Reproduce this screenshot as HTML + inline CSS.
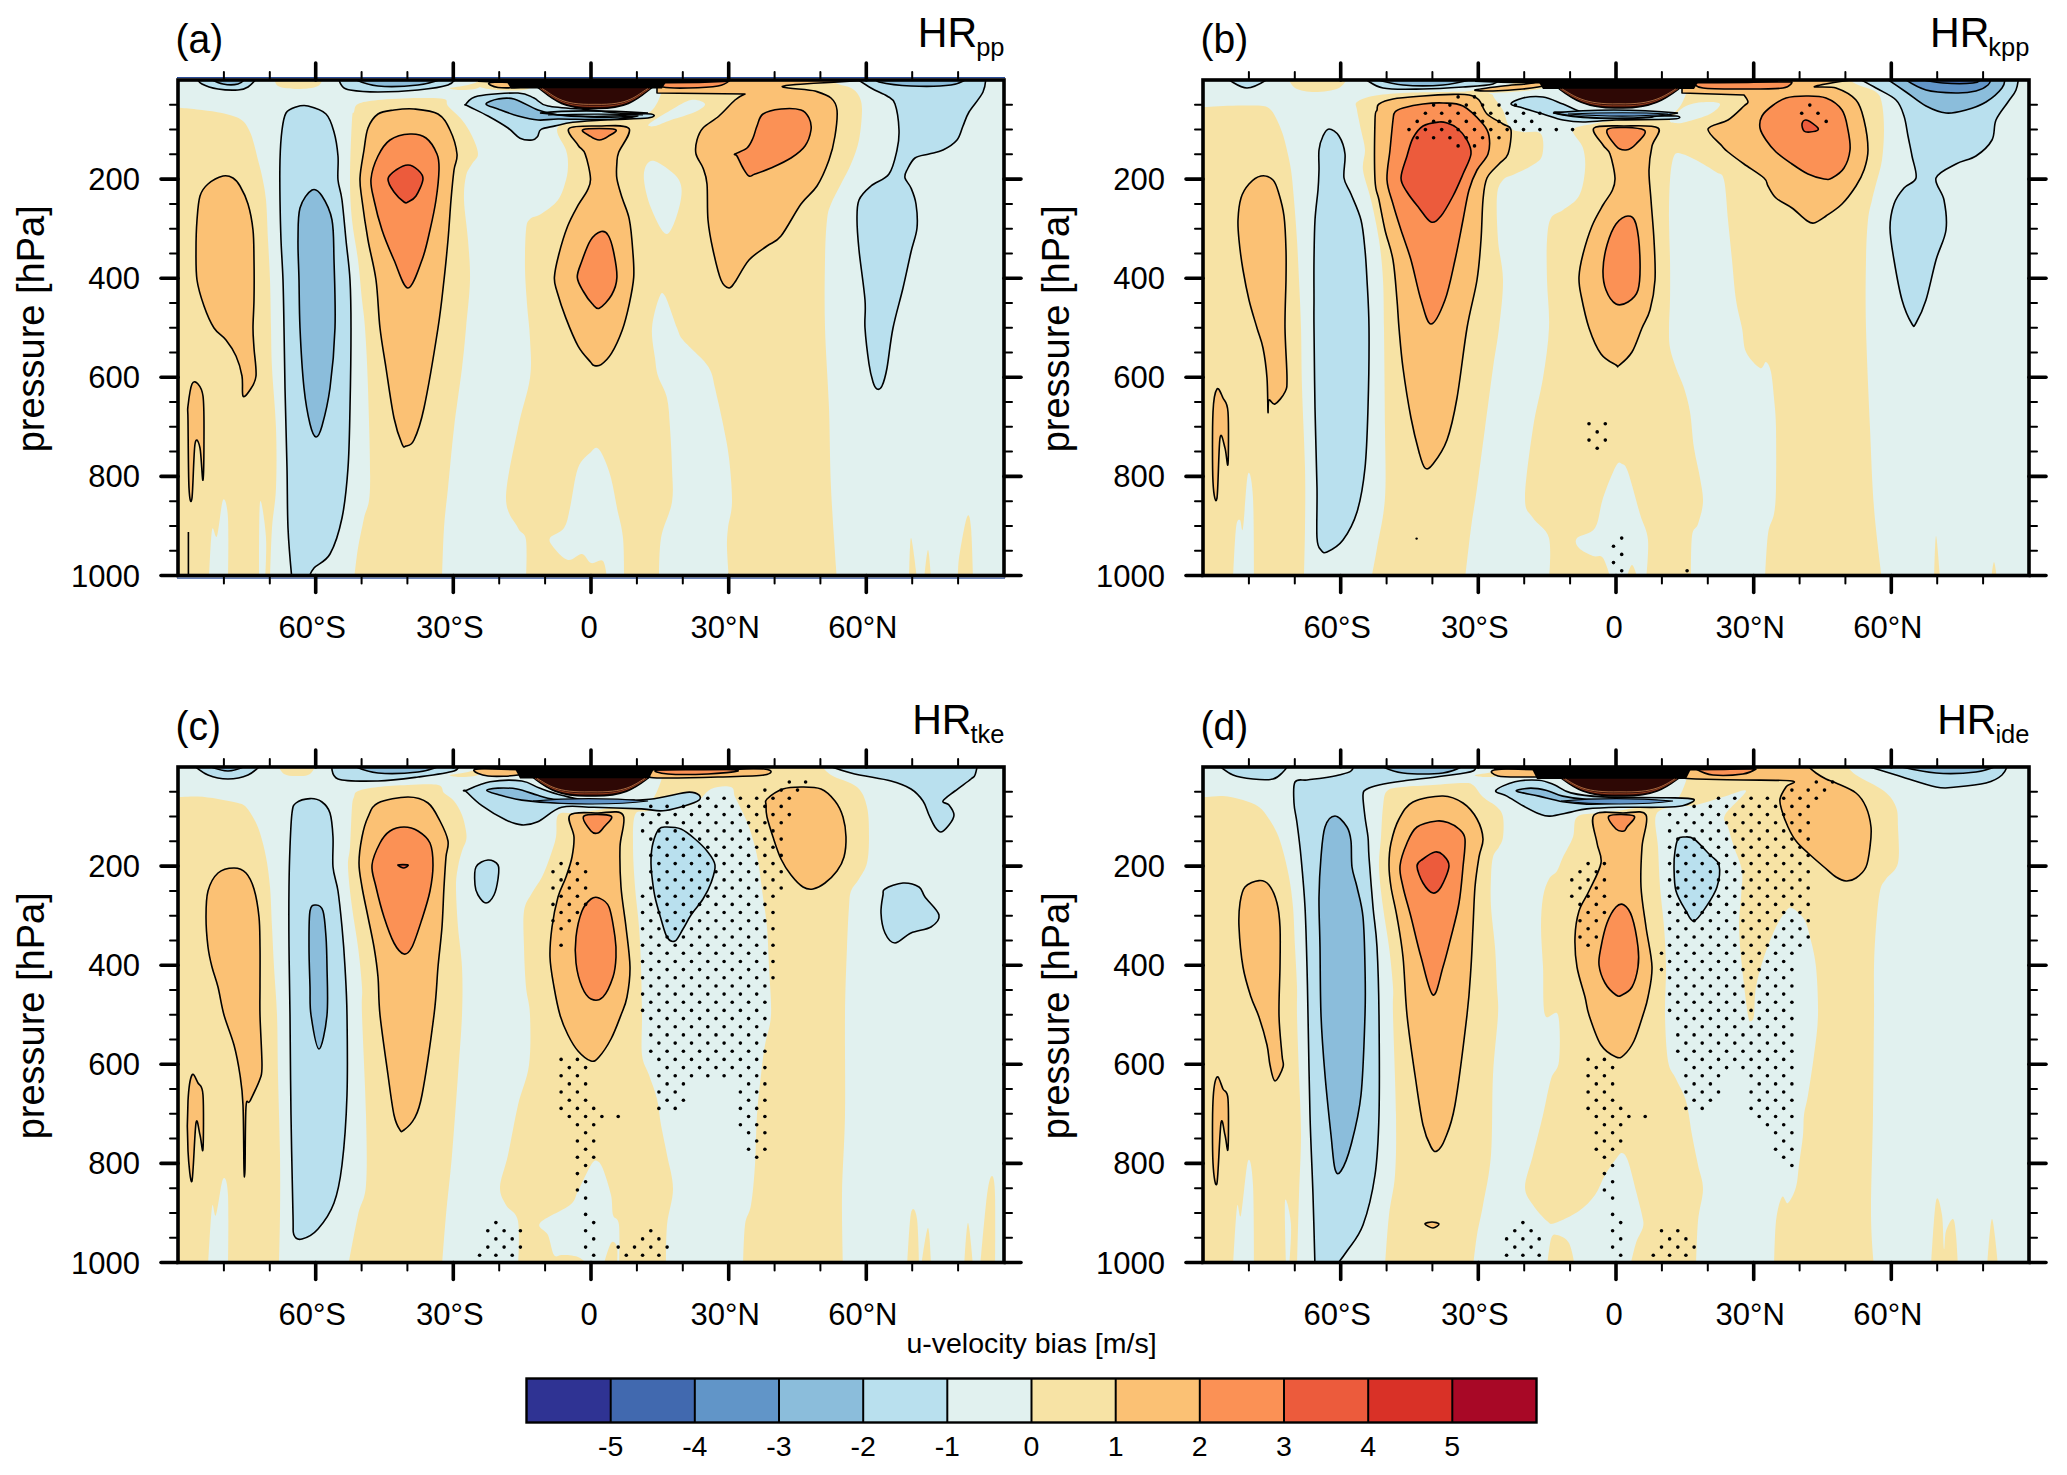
<!DOCTYPE html><html><head><meta charset="utf-8"><style>html,body{margin:0;padding:0;background:#fff;}svg{display:block;}</style></head><body>
<svg width="2067" height="1475" viewBox="0 0 2067 1475">
<rect width="2067" height="1475" fill="#fff"/>
<g transform="translate(178,80)">
<clipPath id="clipa"><rect x="0" y="0" width="826" height="495.5"/></clipPath>
<g clip-path="url(#clipa)">
<rect x="0" y="0" width="826" height="495.5" fill="#e1f1ef"/>
<path d="M-5,28C-5,28 -0.8,27.7 4,28C8.8,28.3 17.3,29.2 24,30C30.7,30.8 38.3,31.8 44,33C49.7,34.2 54.3,35.5 58,37C61.7,38.5 63.7,39.5 66,42C68.3,44.5 70.3,48.3 72,52C73.7,55.7 74.7,59.3 76,64C77.3,68.7 78.7,74.7 80,80C81.3,85.3 82.7,89.3 84,96C85.3,102.7 87,109.3 88,120C89,130.7 89.3,146.7 90,160C90.7,173.3 91.5,185.3 92,200C92.5,214.7 92.7,233.3 93,248C93.3,262.7 93.2,271.3 94,288C94.8,304.7 97.3,328 98,348C98.7,368 98.7,391.3 98,408C97.3,424.7 95,432.7 94,448C93,463.3 92,500 92,500C92,500 -5,500 -5,500C-5,500 -5,28 -5,28Z" fill="#f7e3a5"/>
<path d="M180,24C176,26 177,29.3 176,32C175,34.7 174.7,28.7 174,40C173.3,51.3 172,83.3 172,100C172,116.7 172.7,126.7 174,140C175.3,153.3 178.3,166.7 180,180C181.7,193.3 182.8,208.7 184,220C185.2,231.3 186,233.3 187,248C188,262.7 189.2,281.3 190,308C190.8,334.7 192.7,386.3 192,408C191.3,429.7 188,428 186,438C184,448 181.7,457.7 180,468C178.3,478.3 176,500 176,500C176,500 264,500 264,500C264,500 265,463.3 266,448C267,432.7 268.3,424.7 270,408C271.7,391.3 273.7,368 276,348C278.3,328 282,304.7 284,288C286,271.3 286.7,262.7 288,248C289.3,233.3 291.7,214.7 292,200C292.3,185.3 291,173.3 290,160C289,146.7 286.3,130.7 286,120C285.7,109.3 286.7,102 288,96C289.3,90 292,87.7 294,84C296,80.3 300,78.7 300,74C300,69.3 296.7,61.7 294,56C291.3,50.3 288,45 284,40C280,35 273,29.5 270,26C267,22.5 271,20.3 266,19C261,17.7 251,17.8 240,18C229,18.2 210,19 200,20C190,21 184,22 180,24Z" fill="#f7e3a5"/>
<path d="M380,47C375.8,52.7 386.3,63.8 388,70C389.7,76.2 390,79 390,84C390,89 389.7,94 388,100C386.3,106 384.2,114.3 380,120C375.8,125.7 367.7,130.8 363,134C358.3,137.2 354.5,136.3 352,139C349.5,141.7 348.8,141.7 348,150C347.2,158.3 346.8,176.7 347,189C347.2,201.3 348.2,212.3 349,224C349.8,235.7 351.5,246.7 352,259C352.5,271.3 354,283.2 352,298C350,312.8 344,328 340,348C336,368 328,401.3 328,418C328,434.7 336.7,441 340,448C343.3,455 346.7,451.3 348,460C349.3,468.7 348,500 348,500C348,500 659,500 659,500C659,500 654.3,436.7 653,408C651.7,379.3 652,354.7 651,328C650,301.3 647.7,272.7 647,248C646.3,223.3 646.7,198 647,180C647.3,162 648,149.3 649,140C650,130.7 650.7,130 653,124C655.3,118 659.7,110.7 663,104C666.3,97.3 670,91.3 673,84C676,76.7 679.2,69 681,60C682.8,51 684,37.3 684,30C684,22.7 682.8,19.7 681,16C679.2,12.3 676.5,10 673,8C669.5,6 665.5,6.2 660,4C654.5,1.8 640,-5 640,-5C640,-5 485,-5 485,-5C485,-5 485.5,7.7 483,14C480.5,20.3 477.2,29.7 470,33C462.8,36.3 449.5,33.5 440,34C430.5,34.5 423,33.8 413,36C403,38.2 384.2,41.3 380,47Z" fill="#f7e3a5"/>
<path d="M96,-5C96,-5 146,-5 146,-5C146,-5 144.3,3.7 140,6C135.7,8.3 126.7,9 120,9C113.3,9 104,8.3 100,6C96,3.7 96,-5 96,-5Z" fill="#f7e3a5"/>
<path d="M272,8C273.7,7.2 283.3,6.7 290,5C296.7,3.3 312,-2 312,-2C312,-2 305.3,6 300,8C294.7,10 284.7,10 280,10C275.3,10 270.3,8.8 272,8Z" fill="#f7e3a5"/>
<path d="M731,500C731,500 731.7,458 733,458C734.3,458 739,500 739,500C739,500 731,500 731,500Z" fill="#f7e3a5"/>
<path d="M746,500C746,500 748.8,470 750,470C751.2,470 753,500 753,500C753,500 746,500 746,500Z" fill="#f7e3a5"/>
<path d="M780,500C780,500 779.5,488.5 781,478C782.5,467.5 787,442 789,437C791,432 792,437.5 793,448C794,458.5 795,500 795,500C795,500 780,500 780,500Z" fill="#f7e3a5"/>
<path d="M471,44C473.7,41.3 486,34 493,30C500,26 507.3,21 513,20C518.7,19 526.3,22 527,24C527.7,26 522.7,29.3 517,32C511.3,34.7 499.7,37.7 493,40C486.3,42.3 480.7,45.3 477,46C473.3,46.7 468.3,46.7 471,44Z" fill="#e1f1ef"/>
<path d="M469,84C471.2,81 473.7,79.3 479,82C484.3,84.7 497.2,93 501,100C504.8,107 504,115 502,124C500,133 493.8,153.3 489,154C484.2,154.7 476.8,137 473,128C469.2,119 466.7,107.3 466,100C465.3,92.7 466.8,87 469,84Z" fill="#e1f1ef"/>
<path d="M481,218C483.2,212.7 484,211 487,216C490,221 496,240.7 499,248C502,255.3 500.7,254.7 505,260C509.3,265.3 520.3,274.7 525,280C529.7,285.3 531,287.3 533,292C535,296.7 535,299.3 537,308C539,316.7 542.7,332.3 545,344C547.3,355.7 549.5,365 551,378C552.5,391 554.2,410.3 554,422C553.8,433.7 550.8,440.3 550,448C549.2,455.7 548.8,459.3 549,468C549.2,476.7 551,500 551,500C551,500 481,500 481,500C481,500 480.8,471 483,458C485.2,445 492.2,433.7 494,422C495.8,410.3 494.3,400.3 494,388C493.7,375.7 492.8,359.7 492,348C491.2,336.3 491,326.7 489,318C487,309.3 482,302.7 480,296C478,289.3 478,286 477,278C476,270 473.3,258 474,248C474.7,238 478.8,223.3 481,218Z" fill="#e1f1ef"/>
<path d="M413,372C416.2,368.7 417,367.3 419,368C421,368.7 422.7,371 425,376C427.3,381 430.7,389.3 433,398C435.3,406.7 437,418 439,428C441,438 443.8,446 445,458C446.2,470 446,500 446,500C446,500 429,500 429,500C429,500 427.7,483.8 425,481C422.3,478.2 416.5,484.2 413,483C409.5,481.8 407.8,474.5 404,474C400.2,473.5 394.7,481 390,480C385.3,479 379,471.7 376,468C373,464.3 370.3,461.3 372,458C373.7,454.7 382.7,453 386,448C389.3,443 389.7,438 392,428C394.3,418 396.5,397.3 400,388C403.5,378.7 409.8,375.3 413,372Z" fill="#e1f1ef"/>
<path d="M31,500C31,500 32.7,457.3 34,450C35.3,442.7 37.2,461 39,456C40.8,451 43.2,423 45,420C46.8,417 49.2,424.7 50,438C50.8,451.3 50,500 50,500C50,500 31,500 31,500Z" fill="#e1f1ef"/>
<path d="M81,500C81,500 80.8,429 82,422C83.2,415 87.2,445 88,458C88.8,471 87,500 87,500C87,500 81,500 81,500Z" fill="#e1f1ef"/>
<path d="M45,96C49.2,95 52.2,96.3 55,98C57.8,99.7 59.5,101.7 62,106C64.5,110.3 67.8,116.7 70,124C72.2,131.3 74,140.7 75,150C76,159.3 75.8,168.3 76,180C76.2,191.7 76.2,208.7 76,220C75.8,231.3 75,240 75,248C75,256 75.5,260 76,268C76.5,276 78.7,289 78,296C77.3,303 74.2,306.7 72,310C69.8,313.3 66.3,318.3 65,316C63.7,313.7 65.2,302.7 64,296C62.8,289.3 60.7,282 58,276C55.3,270 51.7,264.7 48,260C44.3,255.3 39.7,253.7 36,248C32.3,242.3 28.8,234 26,226C23.2,218 20.3,209.3 19,200C17.7,190.7 18,180 18,170C18,160 18.3,149 19,140C19.7,131 20.2,122 22,116C23.8,110 26.2,107.3 30,104C33.8,100.7 40.8,97 45,96Z" fill="#fbc174" stroke="#000" stroke-width="1.6" stroke-linejoin="round"/>
<path d="M10,326C10.7,320 12.3,307.7 14,304C15.7,300.3 18.2,302 20,304C21.8,306 24,308.7 25,316C26,323.3 26,334 26,348C26,362 25.7,396.7 25,400C24.3,403.3 23.3,374 22,368C20.7,362 18.3,355.7 17,364C15.7,372.3 15,410.7 14,418C13,425.3 11.7,421 11,408C10.3,395 10.2,353.7 10,340C9.8,326.3 9.3,332 10,326Z" fill="#fbc174" stroke="#000" stroke-width="1.6" stroke-linejoin="round"/>
<path d="M236,29C243.3,29.7 254,30.5 260,34C266,37.5 268.8,43.3 272,50C275.2,56.7 278.3,67.3 279,74C279.7,80.7 277,82.3 276,90C275,97.7 274,108.3 273,120C272,131.7 271.2,146.7 270,160C268.8,173.3 267.7,185.3 266,200C264.3,214.7 263.3,226.7 260,248C256.7,269.3 250,309.3 246,328C242,346.7 239,353.7 236,360C233,366.3 230,365.3 228,366C226,366.7 226,368.7 224,364C222,359.3 218.7,350.7 216,338C213.3,325.3 210.3,303 208,288C205.7,273 203.7,262.7 202,248C200.3,233.3 200,214.7 198,200C196,185.3 192.3,173.3 190,160C187.7,146.7 185.3,130.3 184,120C182.7,109.7 181.7,106.3 182,98C182.3,89.7 184.7,78.3 186,70C187.3,61.7 187.7,54 190,48C192.3,42 195.7,37 200,34C204.3,31 210,30.8 216,30C222,29.2 228.7,28.3 236,29Z" fill="#fbc174" stroke="#000" stroke-width="1.6" stroke-linejoin="round"/>
<path d="M391,48.5C394.5,45.3 411,46 421,46C431,46 447.7,44.1 451,48.5C454.3,52.9 442.7,66.6 440.7,72.3C438.7,78 439.2,78.5 438.9,82.9C438.6,87.3 438,92.8 438.9,98.7C439.8,104.6 442.1,111.3 444.2,118.1C446.3,124.9 449.5,130.5 451.3,139.3C453.1,148.1 454.1,161.3 454.8,171C455.5,180.7 456.3,188.6 455.7,197.4C455.1,206.2 453.2,215 451.3,223.8C449.4,232.6 447.1,242.1 444.2,250.3C441.2,258.5 437.1,267.5 433.6,273.2C430.1,278.9 426,282.6 423.1,284.6C420.2,286.7 417.8,285.9 416,285.5C414.2,285.1 415.1,285.2 412.5,282C409.9,278.8 404.2,273.5 400.1,266.1C396,258.8 391.3,247 387.8,237.9C384.3,228.8 380.9,218.2 379,211.5C377.1,204.8 376.1,203.6 376.4,197.4C376.7,191.2 378.6,183 380.8,174.5C383,166 386.4,154.5 389.6,146.3C392.8,138.1 396.9,131.1 400.1,125.2C403.3,119.3 406.9,115.5 409,111.1C411.1,106.7 412.8,104.9 412.5,98.7C412.2,92.5 409.3,79.7 407.2,74.1C405.1,68.5 402.8,69.5 400.1,65.2C397.4,60.9 387.5,51.7 391,48.5Z" fill="#fbc174" stroke="#000" stroke-width="1.6" stroke-linejoin="round"/>
<path d="M479,-5C479,-5 800,-5 800,-5C800,-5 640.2,2.3 613,5C585.8,7.7 630.3,8.8 637,11C643.7,13.2 649.3,14.8 653,18C656.7,21.2 658.3,23.7 659,30C659.7,36.3 658.3,47.7 657,56C655.7,64.3 654,71.7 651,80C648,88.3 643.7,98.7 639,106C634.3,113.3 629,115.7 623,124C617,132.3 608.7,149 603,156C597.3,163 594.3,162 589,166C583.7,170 576.3,174 571,180C565.7,186 560.3,197.3 557,202C553.7,206.7 553.3,208.3 551,208C548.7,207.7 545.7,206.3 543,200C540.3,193.7 537.2,180 535,170C532.8,160 531,151 530,140C529,129 529.8,112.7 529,104C528.2,95.3 526.8,93 525,88C523.2,83 519,78.7 518,74C517,69.3 517.8,64.3 519,60C520.2,55.7 521.3,52 525,48C528.7,44 535.7,40.7 541,36C546.3,31.3 552.7,23.7 557,20C561.3,16.3 567,14 567,14C567,14 479,13 479,13C479,13 479,-5 479,-5Z" fill="#fbc174" stroke="#000" stroke-width="1.6" stroke-linejoin="round"/>
<path d="M232,54C238,53.7 243.5,54.7 248,58C252.5,61.3 256.8,68.7 259,74C261.2,79.3 261.2,82.3 261,90C260.8,97.7 259.5,110 258,120C256.5,130 254.3,140 252,150C249.7,160 247.7,170.3 244,180C240.3,189.7 234.7,208 230,208C225.3,208 220.3,189.7 216,180C211.7,170.3 207.3,160 204,150C200.7,140 197.8,128.5 196,120C194.2,111.5 192.3,106.3 193,99C193.7,91.7 196.8,82.5 200,76C203.2,69.5 206.7,63.7 212,60C217.3,56.3 226,54.3 232,54Z" fill="#fb9155" stroke="#000" stroke-width="1.6" stroke-linejoin="round"/>
<path d="M405.4,49.4C409.5,48.2 433.1,48.2 437.2,49.4C441.3,50.6 432.8,54.6 430.1,56.4C427.5,58.2 424.2,60 421.3,60C418.4,60 415.1,58.2 412.5,56.4C409.9,54.6 401.3,50.6 405.4,49.4Z" fill="#fb9155" stroke="#000" stroke-width="1.6" stroke-linejoin="round"/>
<path d="M423.1,151.6C426,150.7 428.1,151.9 430.1,155.1C432.2,158.3 433.9,163.9 435.4,171C436.9,178.1 439.2,190.1 438.9,197.4C438.6,204.7 436.5,209.9 433.6,215C430.7,220.1 424.5,226.7 421.3,228.2C418.1,229.7 416.9,226.6 414.2,223.8C411.5,221 407.9,215.9 405.4,211.5C402.9,207.1 399.6,202.4 399.3,197.4C399,192.4 401.5,187.7 403.7,181.5C405.9,175.3 409.3,165.4 412.5,160.4C415.7,155.4 420.2,152.5 423.1,151.6Z" fill="#fb9155" stroke="#000" stroke-width="1.6" stroke-linejoin="round"/>
<path d="M585,34C589,31.2 596.7,29.7 603,29C609.3,28.3 618.3,28.5 623,30C627.7,31.5 629.3,34.7 631,38C632.7,41.3 633.7,45.3 633,50C632.3,54.7 630.3,61.3 627,66C623.7,70.7 618.7,74.3 613,78C607.3,81.7 599,85.3 593,88C587,90.7 580.7,92.7 577,94C573.3,95.3 573,97 571,96C569,95 567,91.3 565,88C563,84.7 560.3,78.3 559,76C557.7,73.7 555.3,75.3 557,74C558.7,72.7 566,70.7 569,68C572,65.3 573.3,61.7 575,58C576.7,54.3 577.3,50 579,46C580.7,42 581,36.8 585,34Z" fill="#fb9155" stroke="#000" stroke-width="1.6" stroke-linejoin="round"/>
<path d="M479,1C479,1 551,1 551,1C551,1 546.8,4.8 540,6C533.2,7.2 519.2,7.8 510,8C500.8,8.2 490.2,8.2 485,7C479.8,5.8 479,1 479,1Z" fill="#fb9155" stroke="#000" stroke-width="1.6" stroke-linejoin="round"/>
<path d="M300,-3C300,-3 360,-3 360,-3C360,-3 356.7,6.8 350,9C343.3,11.2 328.3,10.5 320,10C311.7,9.5 303.3,8.2 300,6C296.7,3.8 300,-3 300,-3Z" fill="#f7e3a5"/>
<path d="M311,3C312.7,2.1 323.2,2 330,2C336.8,2 349.5,2.2 352,3C354.5,3.8 350.3,6.2 345,7C339.7,7.8 325.7,8.2 320,7.5C314.3,6.8 309.3,3.9 311,3Z" fill="#fbc174" stroke="#000" stroke-width="1.6" stroke-linejoin="round"/>
<path d="M230,85C233.7,85 237.5,87.7 240,90C242.5,92.3 245.3,94.7 245,99C244.7,103.3 240.5,112.2 238,116C235.5,119.8 232,121 230,122C228,123 228.3,123.7 226,122C223.7,120.3 218.7,115.8 216,112C213.3,108.2 209.7,102.7 210,99C210.3,95.3 214.7,92.3 218,90C221.3,87.7 226.3,85 230,85Z" fill="#ec5b3c" stroke="#000" stroke-width="1.6" stroke-linejoin="round"/>
<path d="M130,26C135,27.2 143.7,29.7 148,34C152.3,38.3 154,45 156,52C158,59 159.3,68 160,76C160.7,84 159.3,92.7 160,100C160.7,107.3 162.7,110 164,120C165.3,130 166.7,146.7 168,160C169.3,173.3 171.2,185.3 172,200C172.8,214.7 173,226.7 173,248C173,269.3 172.5,304.7 172,328C171.5,351.3 171.3,369.7 170,388C168.7,406.3 167,423.7 164,438C161,452.3 156.7,465.7 152,474C147.3,482.3 139.7,483.7 136,488C132.3,492.3 130,500 130,500C130,500 114,500 114,500C114,500 110.8,466.7 110,448C109.2,429.3 109.5,411.3 109,388C108.5,364.7 107.5,331.3 107,308C106.5,284.7 106.3,266 106,248C105.7,230 105.5,214.7 105,200C104.5,185.3 103.5,173.3 103,160C102.5,146.7 102.2,133.3 102,120C101.8,106.7 101.7,91.7 102,80C102.3,68.3 103,57.8 104,50C105,42.2 105.7,36.8 108,33C110.3,29.2 114.3,28.2 118,27C121.7,25.8 125,24.8 130,26Z" fill="#b9e0ee" stroke="#000" stroke-width="1.6" stroke-linejoin="round"/>
<path d="M134,110C137.7,108 140.7,111 144,116C147.3,121 152,129.3 154,140C156,150.7 155.5,162 156,180C156.5,198 157.7,226.7 157,248C156.3,269.3 154.2,291.7 152,308C149.8,324.3 146.3,337.8 144,346C141.7,354.2 140,357.3 138,357C136,356.7 134,352.2 132,344C130,335.8 127.7,324 126,308C124.3,292 122.8,266 122,248C121.2,230 121.3,214.7 121,200C120.7,185.3 119.8,172 120,160C120.2,148 119.7,136.3 122,128C124.3,119.7 130.3,112 134,110Z" fill="#8bbddb" stroke="#000" stroke-width="1.6" stroke-linejoin="round"/>
<path d="M673,-5C673,-5 687,4.5 693,8C699,11.5 705,13.3 709,16C713,18.7 715,18.3 717,24C719,29.7 720.7,42.3 721,50C721.3,57.7 720.7,62.7 719,70C717.3,77.3 715.3,88 711,94C706.7,100 698,101.7 693,106C688,110.3 683.3,114.3 681,120C678.7,125.7 679,131.7 679,140C679,148.3 679.7,156.7 681,170C682.3,183.3 686,207 687,220C688,233 686.3,237.3 687,248C687.7,258.7 689.7,275 691,284C692.3,293 693.7,297.8 695,302C696.3,306.2 697.5,308.3 699,309C700.5,309.7 702.3,309.5 704,306C705.7,302.5 707.2,297.7 709,288C710.8,278.3 712.3,261.3 715,248C717.7,234.7 722,220.7 725,208C728,195.3 730.7,182 733,172C735.3,162 738.2,156 739,148C739.8,140 739,130.7 738,124C737,117.3 734.8,112.3 733,108C731.2,103.7 727.7,101 727,98C726.3,95 727.3,93.3 729,90C730.7,86.7 733.3,80.7 737,78C740.7,75.3 746.3,75.3 751,74C755.7,72.7 760.3,72.3 765,70C769.7,67.7 775.7,64 779,60C782.3,56 783,50.7 785,46C787,41.3 787.7,37.7 791,32C794.3,26.3 802.2,18.2 805,12C807.8,5.8 808,-5 808,-5C808,-5 673,-5 673,-5Z" fill="#b9e0ee" stroke="#000" stroke-width="1.6" stroke-linejoin="round"/>
<path d="M701,2C706.5,3.3 721,5.5 733,6C745,6.5 763.5,6.3 773,5C782.5,3.7 790,-2 790,-2C790,-2 700,-2 700,-2C700,-2 695.5,0.7 701,2Z" fill="#8bbddb" stroke="#000" stroke-width="1.6" stroke-linejoin="round"/>
<path d="M18,-3C18,-3 20.3,2 24,4C27.7,6 34,8 40,9C46,10 55,10.3 60,10C65,9.7 66.7,9.2 70,7C73.3,4.8 80,-3 80,-3C80,-3 18,-3 18,-3Z" fill="#b9e0ee" stroke="#000" stroke-width="1.6" stroke-linejoin="round"/>
<path d="M30,-2C30,-2 40,3 45,4C50,5 56.2,5 60,4C63.8,3 68,-2 68,-2C68,-2 30,-2 30,-2Z" fill="#8bbddb" stroke="#000" stroke-width="1.6" stroke-linejoin="round"/>
<path d="M160,-3C160,-3 162,3.8 164,6C166,8.2 166,9 172,10C178,11 188.7,12 200,12C211.3,12 228.3,11.2 240,10C251.7,8.8 263.7,7.2 270,5C276.3,2.8 278,-3 278,-3C278,-3 160,-3 160,-3Z" fill="#b9e0ee" stroke="#000" stroke-width="1.6" stroke-linejoin="round"/>
<path d="M176,-1C176,-1 189.3,5 200,6C210.7,7 229.3,6.2 240,5C250.7,3.8 264,-1 264,-1C264,-1 176,-1 176,-1Z" fill="#8bbddb" stroke="#000" stroke-width="1.6" stroke-linejoin="round"/>
<path d="M288,24C289.7,22.3 291.3,17.8 300,16C308.7,14.2 330.7,12.7 340,13C349.3,13.3 351,15.8 356,18C361,20.2 360.5,24 370,26C379.5,28 401.3,28.8 413,30C424.7,31.2 430,32.3 440,33C450,33.7 468,33.2 473,34C478,34.8 477.2,37 470,38C462.8,39 442.5,39 430,39.7C417.5,40.4 403.7,41.3 394.9,42.3C386.1,43.3 382.5,44.7 377.2,45.9C371.9,47.1 366,47.6 363.1,49.4C360.2,51.1 361.1,54.6 359.6,56.4C358.1,58.2 357.2,59.7 354.3,60C351.4,60.3 346.1,60.2 342,58.2C337.9,56.2 335.3,51.7 330,48C324.7,44.3 316.7,39.7 310,36C303.3,32.3 293.7,28 290,26C286.3,24 286.3,25.7 288,24Z" fill="#b9e0ee" stroke="#000" stroke-width="1.6" stroke-linejoin="round"/>
<path d="M308,24C308,22.3 315.3,19.8 320,19C324.7,18.2 329.3,17.2 336,19C342.7,20.8 352.7,27.3 360,30C367.3,32.7 371.2,33.8 380,35C388.8,36.2 403,36.7 413,37C423,37.3 432.2,37.2 440,37C447.8,36.8 460,35.7 460,36C460,36.3 447.8,38.4 440,39C432.2,39.6 423,39.5 413,39.5C403,39.5 388.8,38.9 380,39C371.2,39.1 366.7,40.5 360,40C353.3,39.5 346.7,37.8 340,36C333.3,34.2 325.3,31 320,29C314.7,27 308,25.7 308,24Z" fill="#8bbddb" stroke="#000" stroke-width="1.6" stroke-linejoin="round"/><path d="M300.0,-4 L551.0,-4 L551.0,2 C531.0,3 511.0,3.5 491.0,3.5 L360.0,3.5 C340.0,3.5 320.0,3 300.0,2Z" fill="#000"/>
<path d="M325.0,-4 L492.0,-4 L484.0,8.6 L333.0,8.6 Z" fill="#000"/>
<path d="M360.0,7.6 C372.0,16.6 382.0,29.5 417.0,28.5 C452.0,29.5 462.0,16.6 474.0,7.6 Z" fill="#2e0805" stroke="#000" stroke-width="1.4"/>
<path d="M362.2,8.6 C374.2,15.6 382.0,27.3 417.0,26.3 C452.0,27.3 459.8,15.6 471.8,8.6" fill="none" stroke="#d06030" stroke-width="0.8" opacity="0.8"/>
<path d="M364.2,8.6 C376.2,15.6 382.0,25.3 417.0,24.3 C452.0,25.3 457.8,15.6 469.8,8.6" fill="none" stroke="#f0a060" stroke-width="0.8" opacity="0.8"/>
<path d="M362,33 C390,30 420,30 470,33 C440,37 400,38 362,33Z" fill="none" stroke="#000" stroke-width="1.6"/>
<path d="M370,35 C400,34 440,34 465,35" fill="none" stroke="#000" stroke-width="1.2"/><line x1="10.4" y1="452" x2="10.4" y2="500" stroke="#000" stroke-width="1.6"/>
</g>
<rect x="-1" y="-3.0" width="828" height="1.2" fill="#2a4d9a"/><rect x="-1" y="497.5" width="828" height="1.2" fill="#2a4d9a"/>
<rect x="0" y="0" width="826" height="495.5" fill="none" stroke="#000" stroke-width="3.6"/>
<g stroke="#000" stroke-linecap="round"><line x1="45.9" y1="0" x2="45.9" y2="-8" stroke-width="2"/><line x1="45.9" y1="495.5" x2="45.9" y2="503.5" stroke-width="2"/><line x1="91.8" y1="0" x2="91.8" y2="-8" stroke-width="2"/><line x1="91.8" y1="495.5" x2="91.8" y2="503.5" stroke-width="2"/><line x1="137.7" y1="0" x2="137.7" y2="-17" stroke-width="3.6"/><line x1="137.7" y1="495.5" x2="137.7" y2="512.5" stroke-width="3.6"/><line x1="183.6" y1="0" x2="183.6" y2="-8" stroke-width="2"/><line x1="183.6" y1="495.5" x2="183.6" y2="503.5" stroke-width="2"/><line x1="229.4" y1="0" x2="229.4" y2="-8" stroke-width="2"/><line x1="229.4" y1="495.5" x2="229.4" y2="503.5" stroke-width="2"/><line x1="275.3" y1="0" x2="275.3" y2="-17" stroke-width="3.6"/><line x1="275.3" y1="495.5" x2="275.3" y2="512.5" stroke-width="3.6"/><line x1="321.2" y1="0" x2="321.2" y2="-8" stroke-width="2"/><line x1="321.2" y1="495.5" x2="321.2" y2="503.5" stroke-width="2"/><line x1="367.1" y1="0" x2="367.1" y2="-8" stroke-width="2"/><line x1="367.1" y1="495.5" x2="367.1" y2="503.5" stroke-width="2"/><line x1="413" y1="0" x2="413" y2="-17" stroke-width="3.6"/><line x1="413" y1="495.5" x2="413" y2="512.5" stroke-width="3.6"/><line x1="458.9" y1="0" x2="458.9" y2="-8" stroke-width="2"/><line x1="458.9" y1="495.5" x2="458.9" y2="503.5" stroke-width="2"/><line x1="504.8" y1="0" x2="504.8" y2="-8" stroke-width="2"/><line x1="504.8" y1="495.5" x2="504.8" y2="503.5" stroke-width="2"/><line x1="550.7" y1="0" x2="550.7" y2="-17" stroke-width="3.6"/><line x1="550.7" y1="495.5" x2="550.7" y2="512.5" stroke-width="3.6"/><line x1="596.6" y1="0" x2="596.6" y2="-8" stroke-width="2"/><line x1="596.6" y1="495.5" x2="596.6" y2="503.5" stroke-width="2"/><line x1="642.4" y1="0" x2="642.4" y2="-8" stroke-width="2"/><line x1="642.4" y1="495.5" x2="642.4" y2="503.5" stroke-width="2"/><line x1="688.3" y1="0" x2="688.3" y2="-17" stroke-width="3.6"/><line x1="688.3" y1="495.5" x2="688.3" y2="512.5" stroke-width="3.6"/><line x1="734.2" y1="0" x2="734.2" y2="-8" stroke-width="2"/><line x1="734.2" y1="495.5" x2="734.2" y2="503.5" stroke-width="2"/><line x1="780.1" y1="0" x2="780.1" y2="-8" stroke-width="2"/><line x1="780.1" y1="495.5" x2="780.1" y2="503.5" stroke-width="2"/><line x1="0" y1="24.8" x2="-8" y2="24.8" stroke-width="2"/><line x1="826" y1="24.8" x2="834" y2="24.8" stroke-width="2"/><line x1="0" y1="49.6" x2="-8" y2="49.6" stroke-width="2"/><line x1="826" y1="49.6" x2="834" y2="49.6" stroke-width="2"/><line x1="0" y1="74.3" x2="-8" y2="74.3" stroke-width="2"/><line x1="826" y1="74.3" x2="834" y2="74.3" stroke-width="2"/><line x1="0" y1="99.1" x2="-17" y2="99.1" stroke-width="3.6"/><line x1="826" y1="99.1" x2="843" y2="99.1" stroke-width="3.6"/><line x1="0" y1="123.9" x2="-8" y2="123.9" stroke-width="2"/><line x1="826" y1="123.9" x2="834" y2="123.9" stroke-width="2"/><line x1="0" y1="148.7" x2="-8" y2="148.7" stroke-width="2"/><line x1="826" y1="148.7" x2="834" y2="148.7" stroke-width="2"/><line x1="0" y1="173.4" x2="-8" y2="173.4" stroke-width="2"/><line x1="826" y1="173.4" x2="834" y2="173.4" stroke-width="2"/><line x1="0" y1="198.2" x2="-17" y2="198.2" stroke-width="3.6"/><line x1="826" y1="198.2" x2="843" y2="198.2" stroke-width="3.6"/><line x1="0" y1="223" x2="-8" y2="223" stroke-width="2"/><line x1="826" y1="223" x2="834" y2="223" stroke-width="2"/><line x1="0" y1="247.8" x2="-8" y2="247.8" stroke-width="2"/><line x1="826" y1="247.8" x2="834" y2="247.8" stroke-width="2"/><line x1="0" y1="272.5" x2="-8" y2="272.5" stroke-width="2"/><line x1="826" y1="272.5" x2="834" y2="272.5" stroke-width="2"/><line x1="0" y1="297.3" x2="-17" y2="297.3" stroke-width="3.6"/><line x1="826" y1="297.3" x2="843" y2="297.3" stroke-width="3.6"/><line x1="0" y1="322.1" x2="-8" y2="322.1" stroke-width="2"/><line x1="826" y1="322.1" x2="834" y2="322.1" stroke-width="2"/><line x1="0" y1="346.8" x2="-8" y2="346.8" stroke-width="2"/><line x1="826" y1="346.8" x2="834" y2="346.8" stroke-width="2"/><line x1="0" y1="371.6" x2="-8" y2="371.6" stroke-width="2"/><line x1="826" y1="371.6" x2="834" y2="371.6" stroke-width="2"/><line x1="0" y1="396.4" x2="-17" y2="396.4" stroke-width="3.6"/><line x1="826" y1="396.4" x2="843" y2="396.4" stroke-width="3.6"/><line x1="0" y1="421.2" x2="-8" y2="421.2" stroke-width="2"/><line x1="826" y1="421.2" x2="834" y2="421.2" stroke-width="2"/><line x1="0" y1="445.9" x2="-8" y2="445.9" stroke-width="2"/><line x1="826" y1="445.9" x2="834" y2="445.9" stroke-width="2"/><line x1="0" y1="470.7" x2="-8" y2="470.7" stroke-width="2"/><line x1="826" y1="470.7" x2="834" y2="470.7" stroke-width="2"/><line x1="0" y1="495.5" x2="-17" y2="495.5" stroke-width="3.6"/><line x1="826" y1="495.5" x2="843" y2="495.5" stroke-width="3.6"/></g>
<g font-family="Liberation Sans, sans-serif" font-size="31" fill="#000"><text x="-38" y="110.1" text-anchor="end">200</text><text x="-38" y="209.2" text-anchor="end">400</text><text x="-38" y="308.3" text-anchor="end">600</text><text x="-38" y="407.4" text-anchor="end">800</text><text x="-38" y="506.5" text-anchor="end">1000</text><text x="134.2" y="558" text-anchor="middle">60°S</text><text x="271.8" y="558" text-anchor="middle">30°S</text><text x="411" y="558" text-anchor="middle">0</text><text x="547.2" y="558" text-anchor="middle">30°N</text><text x="684.8" y="558" text-anchor="middle">60°N</text></g>
<text font-family="Liberation Sans, sans-serif" font-size="38" transform="translate(-134,248.8) rotate(-90)" text-anchor="middle">pressure [hPa]</text>
<text font-family="Liberation Sans, sans-serif" font-size="41.5" transform="translate(-2.5,-27.5) scale(0.94,1)">(a)</text><text font-family="Liberation Sans, sans-serif" font-size="42.8" text-anchor="end" transform="translate(799.1,-32.8) scale(0.96,1)">HR</text><text font-family="Liberation Sans, sans-serif" font-size="26.3" transform="translate(798.13,-24.3) scale(0.97,1)">pp</text>
</g>
<g transform="translate(1203,80)">
<clipPath id="clipb"><rect x="0" y="0" width="826" height="495.5"/></clipPath>
<g clip-path="url(#clipb)">
<rect x="0" y="0" width="826" height="495.5" fill="#e1f1ef"/>
<path d="M-5,27C-5,27 -0.2,27.2 4,27C8.2,26.8 14,26.2 20,26C26,25.8 33.3,25.6 40,25.6C46.7,25.6 55.3,25.3 60,26C64.7,26.7 65.7,27.7 68,30C70.3,32.3 72.2,36.3 74,40C75.8,43.7 77.5,47.7 79,52C80.5,56.3 81.5,59.7 83,66C84.5,72.3 86.7,81 88,90C89.3,99 90,108.3 91,120C92,131.7 93.2,146.7 94,160C94.8,173.3 95.3,185.3 96,200C96.7,214.7 97.5,230 98,248C98.5,266 98.3,284.7 99,308C99.7,331.3 101.5,364.7 102,388C102.5,411.3 102.2,429.3 102,448C101.8,466.7 101,500 101,500C101,500 -5,500 -5,500C-5,500 -5,27 -5,27Z" fill="#f7e3a5"/>
<path d="M154,22C156.7,19.7 162.3,17.5 170,16C177.7,14.5 188.3,13.7 200,13C211.7,12.3 228.3,12.2 240,12C251.7,11.8 261.7,11.5 270,12C278.3,12.5 285,12 290,15C295,18 297,24.5 300,30C303,35.5 304.7,44.3 308,48C311.3,51.7 315,51 320,52C325,53 334.8,50 338,54C341.2,58 340.7,70.7 339,76C337.3,81.3 332.5,83 328,86C323.5,89 316.7,91.7 312,94C307.3,96.3 303,96.3 300,100C297,103.7 294.8,106 294,116C293.2,126 294,146 295,160C296,174 299.8,185.3 300,200C300.2,214.7 297.7,233.3 296,248C294.3,262.7 292.3,271.3 290,288C287.7,304.7 284.7,328 282,348C279.3,368 276.3,391.3 274,408C271.7,424.7 270,432.7 268,448C266,463.3 262,500 262,500C262,500 168,500 168,500C168,500 171.7,481.7 174,468C176.3,454.3 180.7,438 182,418C183.3,398 182.2,376.3 182,348C181.8,319.7 181.3,272.7 181,248C180.7,223.3 180.8,214.7 180,200C179.2,185.3 178,173.3 176,160C174,146.7 170.7,131.7 168,120C165.3,108.3 161,98.3 160,90C159,81.7 162.3,76.7 162,70C161.7,63.3 159.3,56.7 158,50C156.7,43.3 154.7,34.7 154,30C153.3,25.3 151.3,24.3 154,22Z" fill="#f7e3a5"/>
<path d="M370,50C368.3,54 378,61.3 380,68C382,74.7 382.7,82 382,90C381.3,98 379.7,109.3 376,116C372.3,122.7 364.7,126.3 360,130C355.3,133.7 350.7,133 348,138C345.3,143 344.7,149.7 344,160C343.3,170.3 343.7,185.3 344,200C344.3,214.7 346.7,231.7 346,248C345.3,264.3 342.7,281.3 340,298C337.3,314.7 333,328 330,348C327,368 322,403 322,418C322,433 326,431.3 330,438C334,444.7 343.3,447.7 346,458C348.7,468.3 346,500 346,500C346,500 679,500 679,500C679,500 673,453.3 671,428C669,402.7 668.3,378 667,348C665.7,318 663.7,276 663,248C662.3,220 662.7,198 663,180C663.3,162 664,150 665,140C666,130 667.7,126 669,120C670.3,114 671.3,110.7 673,104C674.7,97.3 677.7,89 679,80C680.3,71 681,59.3 681,50C681,40.7 680.3,30.3 679,24C677.7,17.7 677.3,15.3 673,12C668.7,8.7 658.5,6.8 653,4C647.5,1.2 640,-5 640,-5C640,-5 485,-5 485,-5C485,-5 485.5,7.7 483,14C480.5,20.3 477.2,29.3 470,33C462.8,36.7 449.5,34.8 440,36C430.5,37.2 421.3,38.7 413,40C404.7,41.3 397.2,42.3 390,44C382.8,45.7 371.7,46 370,50Z" fill="#f7e3a5"/>
<path d="M84,-5C84,-5 146,-5 146,-5C146,-5 141.7,5.2 136,8C130.3,10.8 119.3,12 112,12C104.7,12 96.7,10.8 92,8C87.3,5.2 84,-5 84,-5Z" fill="#f7e3a5"/>
<path d="M262,12C263.7,10.8 288.7,8.5 300,6C311.3,3.5 330,-3 330,-3C330,-3 350,1.8 350,4C350,6.2 340,8.5 330,10C320,11.5 301.3,12.7 290,13C278.7,13.3 260.3,13.2 262,12Z" fill="#f7e3a5"/>
<path d="M272,10C273.7,9.2 290.3,7.2 300,6C309.7,4.8 322.5,4.5 330,3C337.5,1.5 345,-3 345,-3C345,-3 365,-3 365,-3C365,-3 352.5,3 345,5C337.5,7 329.2,8 320,9C310.8,10 298,10.8 290,11C282,11.2 270.3,10.8 272,10Z" fill="#fbc174" stroke="#000" stroke-width="1.6" stroke-linejoin="round"/>
<path d="M731,500C731,500 732,456 733,456C734,456 737,500 737,500C737,500 731,500 731,500Z" fill="#f7e3a5"/>
<path d="M788,500C788,500 790,482 791,482C792,482 794,500 794,500C794,500 788,500 788,500Z" fill="#f7e3a5"/>
<path d="M467,40C468.7,37.2 477,29 483,26C489,23 497.3,22.3 503,22C508.7,21.7 516.3,22 517,24C517.7,26 512.7,31 507,34C501.3,37 488.7,40.5 483,42C477.3,43.5 475.7,43.3 473,43C470.3,42.7 465.3,42.8 467,40Z" fill="#e1f1ef"/>
<path d="M467,100C467.8,89.3 469,80.3 471,76C473,71.7 475.3,73.3 479,74C482.7,74.7 487.3,77 493,80C498.7,83 508.3,88.7 513,92C517.7,95.3 519,92 521,100C523,108 523.7,126.7 525,140C526.3,153.3 527.7,166.7 529,180C530.3,193.3 531.3,208.7 533,220C534.7,231.3 537.3,239.3 539,248C540.7,256.7 540,265.3 543,272C546,278.7 553.7,286.3 557,288C560.3,289.7 561.2,281.3 563,282C564.8,282.7 566.7,286 568,292C569.3,298 570.2,308.7 571,318C571.8,327.3 572.7,333 573,348C573.3,363 573.3,393.7 573,408C572.7,422.3 572.3,426.3 571,434C569.7,441.7 566.5,443 565,454C563.5,465 562,500 562,500C562,500 488,500 488,500C488,500 487.8,465.3 489,456C490.2,446.7 493.2,449.7 495,444C496.8,438.3 499.7,429.7 500,422C500.3,414.3 498.5,407 497,398C495.5,389 492.7,379 491,368C489.3,357 488.7,342 487,332C485.3,322 483.3,315.3 481,308C478.7,300.7 475.3,294.7 473,288C470.7,281.3 468.2,274.7 467,268C465.8,261.3 466,256 466,248C466,240 466.8,231.3 467,220C467.2,208.7 467.2,193.3 467,180C466.8,166.7 466,153.3 466,140C466,126.7 466.2,110.7 467,100Z" fill="#e1f1ef"/>
<path d="M413,386C416.2,380.3 417,383 419,384C421,385 422,383.7 425,392C428,400.3 433.7,422.7 437,434C440.3,445.3 444,449 445,460C446,471 443,500 443,500C443,500 435,500 435,500C435,500 431,485 429,485C427,485 423,500 423,500C423,500 408,500 408,500C408,500 403,482 400,478C397,474 394,477.7 390,476C386,474.3 378.7,471 376,468C373.3,465 371.3,461.3 374,458C376.7,454.7 387.7,454.7 392,448C396.3,441.3 396.5,428.3 400,418C403.5,407.7 409.8,391.7 413,386Z" fill="#e1f1ef"/>
<path d="M30,500C30,500 31.8,458 33,448C34.2,438 35.8,440 37,440C38.2,440 38.7,455.7 40,448C41.3,440.3 43.3,399 45,394C46.7,389 49,400.3 50,418C51,435.7 51,500 51,500C51,500 30,500 30,500Z" fill="#e1f1ef"/>
<path d="M290,15C290,12.3 295,13.8 300,14C305,14.2 313.3,15.3 320,16C326.7,16.7 333.3,16.7 340,18C346.7,19.3 354.7,21.3 360,24C365.3,26.7 370,30.7 372,34C374,37.3 375.7,42 372,44C368.3,46 357,45 350,46C343,47 337,49.7 330,50C323,50.3 313,51.3 308,48C303,44.7 303,35.5 300,30C297,24.5 290,17.7 290,15Z" fill="#e1f1ef"/>
<path d="M58,96C62,95.3 67,97 70,100C73,103 74.2,108 76,114C77.8,120 79.8,126.7 81,136C82.2,145.3 82.7,159.3 83,170C83.3,180.7 83.2,187 83,200C82.8,213 81.8,231.7 82,248C82.2,264.3 84,287.3 84,298C84,308.7 84,307.7 82,312C80,316.3 74.7,322.7 72,324C69.3,325.3 67.2,318.7 66,320C64.8,321.3 65.3,335.7 65,332C64.7,328.3 64.8,308.7 64,298C63.2,287.3 61.7,276.3 60,268C58.3,259.7 56.3,256 54,248C51.7,240 48.3,229.7 46,220C43.7,210.3 41.7,200 40,190C38.3,180 36.8,168.3 36,160C35.2,151.7 34.7,147 35,140C35.3,133 36.2,124 38,118C39.8,112 42.7,107.7 46,104C49.3,100.3 54,96.7 58,96Z" fill="#fbc174" stroke="#000" stroke-width="1.6" stroke-linejoin="round"/>
<path d="M10,332C10.7,316.5 12.3,311.3 14,309C15.7,306.7 18.2,314.2 20,318C21.8,321.8 24.2,321 25,332C25.8,343 25.5,378 25,384C24.5,390 23.3,372.3 22,368C20.7,363.7 18.3,349.7 17,358C15.7,366.3 15.2,410.7 14,418C12.8,425.3 10.7,416.3 10,402C9.3,387.7 9.3,347.5 10,332Z" fill="#fbc174" stroke="#000" stroke-width="1.6" stroke-linejoin="round"/>
<path d="M174,30C174.7,27.3 173.3,25.8 176,24C178.7,22.2 182.7,20.3 190,19C197.3,17.7 210,16.8 220,16C230,15.2 242.3,14.6 250,14.4C257.7,14.2 261.7,14.1 266,15C270.3,15.9 273,16.8 276,20C279,23.2 280,30 284,34C288,38 296,41.3 300,44C304,46.7 307.2,45 308,50C308.8,55 307,68.3 305,74C303,79.7 299.5,80 296,84C292.5,88 286.7,92 284,98C281.3,104 281,109.7 280,120C279,130.3 279,146.7 278,160C277,173.3 276.3,185.3 274,200C271.7,214.7 267.3,228.3 264,248C260.7,267.7 257.3,299.3 254,318C250.7,336.7 248,349 244,360C240,371 233.7,379.3 230,384C226.3,388.7 224.3,390 222,388C219.7,386 218.3,380.3 216,372C213.7,363.7 210.7,352 208,338C205.3,324 202,303 200,288C198,273 197,259.3 196,248C195,236.7 195,231.3 194,220C193,208.7 192,191.7 190,180C188,168.3 184.3,160 182,150C179.7,140 177.7,128.3 176,120C174.3,111.7 172.7,113.3 172,100C171.3,86.7 171.7,51.7 172,40C172.3,28.3 173.3,32.7 174,30Z" fill="#fbc174" stroke="#000" stroke-width="1.6" stroke-linejoin="round"/>
<path d="M391,48C394.5,44.8 410.3,46 421,46C431.7,46 450.3,44.7 455,48C459.7,51.3 450.5,59 449,66C447.5,73 446.2,81 446,90C445.8,99 447.2,108.3 448,120C448.8,131.7 450.3,146.7 451,160C451.7,173.3 452.7,188.3 452,200C451.3,211.7 449.2,222 447,230C444.8,238 442,241 439,248C436,255 432.8,265.8 429,272C425.2,278.2 418.7,283.3 416,285.5C413.3,287.7 416,286.9 413,285C410,283.1 402.5,280.2 398,274C393.5,267.8 389.3,257.8 386,248C382.7,238.2 379.7,223.5 378,215C376.3,206.5 375.7,203.8 376,197C376.3,190.2 377.8,182.5 380,174C382.2,165.5 385.7,154.2 389,146C392.3,137.8 396.7,130.8 400,125C403.3,119.2 407,115.5 409,111C411,106.5 412.3,104.2 412,98C411.7,91.8 409,79.5 407,74C405,68.5 402.7,69.3 400,65C397.3,60.7 387.5,51.2 391,48Z" fill="#fbc174" stroke="#000" stroke-width="1.6" stroke-linejoin="round"/>
<path d="M479,-5C479,-5 680,-5 680,-5C680,-5 620.8,3.8 613,6C605.2,8.2 626.3,5.7 633,8C639.7,10.3 648.3,14.7 653,20C657.7,25.3 659,31.7 661,40C663,48.3 665,61.7 665,70C665,78.3 663,84 661,90C659,96 656.7,100.3 653,106C649.3,111.7 644,119 639,124C634,129 627.7,132.8 623,136C618.3,139.2 614.3,142.3 611,143C607.7,143.7 606.7,142.5 603,140C599.3,137.5 594,131.7 589,128C584,124.3 577,121.7 573,118C569,114.3 567,109.3 565,106C563,102.7 565,101.7 561,98C557,94.3 547,88.3 541,84C535,79.7 528.7,75 525,72C521.3,69 522.3,69.8 519,66C515.7,62.2 504,53.3 505,49C506,44.7 519,43.8 525,40C531,36.2 537.7,29 541,26C544.3,23 545,23.8 545,22C545,20.2 541,15 541,15C541,15 479,13 479,13C479,13 479,-5 479,-5Z" fill="#fbc174" stroke="#000" stroke-width="1.6" stroke-linejoin="round"/>
<path d="M192,32C193.7,30 195.3,29.3 200,28C204.7,26.7 213.3,24.8 220,24C226.7,23.2 233.3,22.7 240,23C246.7,23.3 253.3,22.5 260,26C266.7,29.5 275.7,39 280,44C284.3,49 285.2,51 286,56C286.8,61 287,68.3 285,74C283,79.7 277.2,84 274,90C270.8,96 268.3,101.7 266,110C263.7,118.3 262.3,128.3 260,140C257.7,151.7 255,166.7 252,180C249,193.3 246,209.3 242,220C238,230.7 232,244 228,244C224,244 221.3,230.7 218,220C214.7,209.3 211.3,191.7 208,180C204.7,168.3 201,159.3 198,150C195,140.7 192.3,132.3 190,124C187.7,115.7 184.5,109 184,100C183.5,91 186,80 187,70C188,60 189.2,46.3 190,40C190.8,33.7 190.3,34 192,32Z" fill="#fb9155" stroke="#000" stroke-width="1.6" stroke-linejoin="round"/>
<path d="M405,49C409.7,46.3 436.3,47.5 441,50C445.7,52.5 436,60.7 433,64C430,67.3 426.3,69.7 423,70C419.7,70.3 416,69.5 413,66C410,62.5 400.3,51.7 405,49Z" fill="#fb9155" stroke="#000" stroke-width="1.6" stroke-linejoin="round"/>
<path d="M413,144C416.5,139.2 421.7,136 425,136C428.3,136 431,136.7 433,144C435,151.3 436.7,169 437,180C437.3,191 437,203 435,210C433,217 428.7,219.7 425,222C421.3,224.3 416.7,226 413,224C409.3,222 405.2,215.7 403,210C400.8,204.3 399.8,197.5 400,190C400.2,182.5 401.8,172.7 404,165C406.2,157.3 409.5,148.8 413,144Z" fill="#fb9155" stroke="#000" stroke-width="1.6" stroke-linejoin="round"/>
<path d="M557,48C556.3,44 557,39.7 559,36C561,32.3 565,29 569,26C573,23 577.3,19.7 583,18C588.7,16.3 596.3,16 603,16C609.7,16 617,15.7 623,18C629,20.3 635.3,24.7 639,30C642.7,35.3 643.7,43.3 645,50C646.3,56.7 647.7,63.7 647,70C646.3,76.3 644,83.3 641,88C638,92.7 632.3,96.2 629,98C625.7,99.8 625,99.7 621,99C617,98.3 610.3,96.5 605,94C599.7,91.5 594.3,87.7 589,84C583.7,80.3 577.3,76 573,72C568.7,68 565.7,64 563,60C560.3,56 557.7,52 557,48Z" fill="#fb9155" stroke="#000" stroke-width="1.6" stroke-linejoin="round"/>
<path d="M489,2C489,2 589,2 589,2C589,2 588.2,6.8 580,8C571.8,9.2 553.3,9 540,9C526.7,9 508.5,9.2 500,8C491.5,6.8 489,2 489,2Z" fill="#fb9155" stroke="#000" stroke-width="1.6" stroke-linejoin="round"/>
<path d="M236,42C232,42.5 224.3,43.3 220,46C215.7,48.7 212.7,53 210,58C207.3,63 206,69.3 204,76C202,82.7 198,92 198,98C198,104 201,107 204,112C207,117 212,123 216,128C220,133 224.3,140.7 228,142C231.7,143.3 234.3,140.3 238,136C241.7,131.7 246.3,123 250,116C253.7,109 257,101 260,94C263,87 267.3,79.7 268,74C268.7,68.3 266.3,64.3 264,60C261.7,55.7 257.3,50.8 254,48C250.7,45.2 247,44 244,43C241,42 240,41.5 236,42Z" fill="#ec5b3c" stroke="#000" stroke-width="1.6" stroke-linejoin="round"/>
<path d="M599,44C599.3,42.2 600.7,39.7 603,40C605.3,40.3 611,44.3 613,46C615,47.7 616,49 615,50C614,51 609.3,51.8 607,52C604.7,52.2 602.3,52.3 601,51C599.7,49.7 598.7,45.8 599,44Z" fill="#ec5b3c" stroke="#000" stroke-width="1.6" stroke-linejoin="round"/>
<path d="M126,49C128.7,49 133.3,51.8 136,56C138.7,60.2 141.2,67 142,74C142.8,81 140,91.3 141,98C142,104.7 145.2,107 148,114C150.8,121 155.7,130.7 158,140C160.3,149.3 161,160 162,170C163,180 163.3,187 164,200C164.7,213 165.8,226.7 166,248C166.2,269.3 165.7,304.7 165,328C164.3,351.3 163.8,370.7 162,388C160.2,405.3 157.7,420 154,432C150.3,444 145,453.3 140,460C135,466.7 127.7,470.3 124,472C120.3,473.7 119.7,472.3 118,470C116.3,467.7 114.7,468.3 114,458C113.3,447.7 114.3,429.7 114,408C113.7,386.3 112.5,354.7 112,328C111.5,301.3 111.2,266 111,248C110.8,230 111,231.3 111,220C111,208.7 110.8,193.3 111,180C111.2,166.7 111.3,151.7 112,140C112.7,128.3 114.3,118.3 115,110C115.7,101.7 115.8,96.7 116,90C116.2,83.3 115.3,75.7 116,70C116.7,64.3 118.3,59.5 120,56C121.7,52.5 123.3,49 126,49Z" fill="#b9e0ee" stroke="#000" stroke-width="1.6" stroke-linejoin="round"/>
<path d="M649,-5C649,-5 665.7,3.8 673,8C680.3,12.2 688.3,15.3 693,20C697.7,24.7 699,30 701,36C703,42 703.7,49.3 705,56C706.3,62.7 707.7,69 709,76C710.3,83 714.3,92.7 713,98C711.7,103.3 704.7,103.7 701,108C697.3,112.3 693.3,117.3 691,124C688.7,130.7 687,138.7 687,148C687,157.3 689,168 691,180C693,192 696,209.3 699,220C702,230.7 706.7,240.2 709,244C711.3,247.8 710.7,247 713,243C715.3,239 719.7,230.5 723,220C726.3,209.5 729.7,191.7 733,180C736.3,168.3 741.7,160 743,150C744.3,140 742.7,128.7 741,120C739.3,111.3 731,104 733,98C735,92 746.3,87.7 753,84C759.7,80.3 767,80 773,76C779,72 785.7,66 789,60C792.3,54 790.3,46.3 793,40C795.7,33.7 801.7,27 805,22C808.3,17 811.2,14.5 813,10C814.8,5.5 816,-5 816,-5C816,-5 649,-5 649,-5Z" fill="#b9e0ee" stroke="#000" stroke-width="1.6" stroke-linejoin="round"/>
<path d="M681,-3C681,-3 696,7.2 703,12C710,16.8 716.3,22.5 723,26C729.7,29.5 736.3,32.3 743,33C749.7,33.7 756.3,31.8 763,30C769.7,28.2 777,25.7 783,22C789,18.3 795.8,12.2 799,8C802.2,3.8 802,-3 802,-3C802,-3 681,-3 681,-3Z" fill="#8bbddb" stroke="#000" stroke-width="1.6" stroke-linejoin="round"/>
<path d="M700,-2C700,-2 714.2,7.5 723,10C731.8,12.5 744.7,12.8 753,13C761.3,13.2 767.7,12.3 773,11C778.3,9.7 782.5,7.2 785,5C787.5,2.8 788,-2 788,-2C788,-2 700,-2 700,-2Z" fill="#6195c8" stroke="#000" stroke-width="1.6" stroke-linejoin="round"/>
<path d="M712,-2C712,-2 730.3,2.2 740,3C749.7,3.8 763.3,3.8 770,3C776.7,2.2 780,-2 780,-2C780,-2 712,-2 712,-2Z" fill="#4169af" stroke="#000" stroke-width="1.6" stroke-linejoin="round"/>
<path d="M22,-3C22,-3 36.3,8 44,8C51.7,8 68,-3 68,-3C68,-3 22,-3 22,-3Z" fill="#b9e0ee" stroke="#000" stroke-width="1.6" stroke-linejoin="round"/>
<path d="M160,-3C160,-3 170,6 180,8C190,10 206.7,9.2 220,9C233.3,8.8 248.3,7.8 260,7C271.7,6.2 283.7,5.7 290,4C296.3,2.3 298,-3 298,-3C298,-3 160,-3 160,-3Z" fill="#b9e0ee" stroke="#000" stroke-width="1.6" stroke-linejoin="round"/>
<path d="M172,-1C172,-1 188.7,4 200,5C211.3,6 228.3,6 240,5C251.7,4 270,-1 270,-1C270,-1 172,-1 172,-1Z" fill="#8bbddb" stroke="#000" stroke-width="1.6" stroke-linejoin="round"/>
<path d="M308,24C308,22.3 314.7,19.2 320,18C325.3,16.8 333.3,16 340,17C346.7,18 353.3,21.5 360,24C366.7,26.5 371.2,30.3 380,32C388.8,33.7 402.2,33.3 413,34C423.8,34.7 435,35.7 445,36C455,36.3 468.8,35.5 473,36C477.2,36.5 480,38.3 470,39C460,39.7 428,39.5 413,40C398,40.5 388.8,42 380,42C371.2,42 366.7,41.3 360,40C353.3,38.7 346.7,36 340,34C333.3,32 325.3,29.7 320,28C314.7,26.3 308,25.7 308,24Z" fill="#b9e0ee" stroke="#000" stroke-width="1.6" stroke-linejoin="round"/>
<path d="M352,32C355.3,31.8 369.8,33.3 380,34C390.2,34.7 401.3,35.5 413,36C424.7,36.5 450,36.6 450,37C450,37.4 424.7,38.4 413,38.5C401.3,38.6 388.8,38.1 380,37.5C371.2,36.9 364.7,35.9 360,35C355.3,34.1 348.7,32.2 352,32Z" fill="#8bbddb" stroke="#000" stroke-width="1.6" stroke-linejoin="round"/><path d="M272.0,-4 L575.0,-4 L575.0,2 C555.0,3 535.0,3.5 515.0,3.5 L332.0,3.5 C312.0,3.5 292.0,3 272.0,2Z" fill="#000"/>
<path d="M332.0,-4 L499.0,-4 L491.0,9.0 L340.0,9.0 Z" fill="#000"/>
<path d="M355.0,8.0 C367.0,17.0 381.0,29.0 416.0,28.0 C451.0,29.0 465.0,17.0 477.0,8.0 Z" fill="#2e0805" stroke="#000" stroke-width="1.4"/>
<path d="M357.2,9.0 C369.2,16.0 381.0,26.8 416.0,25.8 C451.0,26.8 462.8,16.0 474.8,9.0" fill="none" stroke="#d06030" stroke-width="0.8" opacity="0.8"/>
<path d="M359.2,9.0 C371.2,16.0 381.0,24.8 416.0,23.8 C451.0,24.8 460.8,16.0 472.8,9.0" fill="none" stroke="#f0a060" stroke-width="0.8" opacity="0.8"/>
<path d="M350,33 C390,29 430,29 475,33 C440,40 390,40 350,33Z" fill="#8bbddb" stroke="#000" stroke-width="1.6"/>
<path d="M365,34 C400,32.5 440,32.5 465,34 C440,36.5 400,36.5 365,34Z" fill="#6195c8" stroke="#000" stroke-width="1.2"/><circle cx="213.6" cy="458.6" r="1.2"/><g fill="#000"><circle cx="255.1" cy="16.9" r="1.80"/><circle cx="271.5" cy="16.9" r="1.80"/><circle cx="230.6" cy="25.1" r="1.80"/><circle cx="246.9" cy="25.1" r="1.80"/><circle cx="263.3" cy="25.1" r="1.80"/><circle cx="279.6" cy="25.1" r="1.80"/><circle cx="296.0" cy="25.1" r="1.80"/><circle cx="312.4" cy="25.1" r="1.80"/><circle cx="606.8" cy="25.1" r="1.80"/><circle cx="222.4" cy="33.3" r="1.80"/><circle cx="238.7" cy="33.3" r="1.80"/><circle cx="255.1" cy="33.3" r="1.80"/><circle cx="271.5" cy="33.3" r="1.80"/><circle cx="287.8" cy="33.3" r="1.80"/><circle cx="304.2" cy="33.3" r="1.80"/><circle cx="320.5" cy="33.3" r="1.80"/><circle cx="336.9" cy="33.3" r="1.80"/><circle cx="598.7" cy="33.3" r="1.80"/><circle cx="615.0" cy="33.3" r="1.80"/><circle cx="214.2" cy="41.4" r="1.80"/><circle cx="230.6" cy="41.4" r="1.80"/><circle cx="246.9" cy="41.4" r="1.80"/><circle cx="263.3" cy="41.4" r="1.80"/><circle cx="279.6" cy="41.4" r="1.80"/><circle cx="296.0" cy="41.4" r="1.80"/><circle cx="312.4" cy="41.4" r="1.80"/><circle cx="328.7" cy="41.4" r="1.80"/><circle cx="623.2" cy="41.4" r="1.80"/><circle cx="206.0" cy="49.6" r="1.80"/><circle cx="222.4" cy="49.6" r="1.80"/><circle cx="238.7" cy="49.6" r="1.80"/><circle cx="255.1" cy="49.6" r="1.80"/><circle cx="271.5" cy="49.6" r="1.80"/><circle cx="287.8" cy="49.6" r="1.80"/><circle cx="304.2" cy="49.6" r="1.80"/><circle cx="320.5" cy="49.6" r="1.80"/><circle cx="336.9" cy="49.6" r="1.80"/><circle cx="353.3" cy="49.6" r="1.80"/><circle cx="369.6" cy="49.6" r="1.80"/><circle cx="214.2" cy="57.8" r="1.80"/><circle cx="230.6" cy="57.8" r="1.80"/><circle cx="246.9" cy="57.8" r="1.80"/><circle cx="263.3" cy="57.8" r="1.80"/><circle cx="279.6" cy="57.8" r="1.80"/><circle cx="296.0" cy="57.8" r="1.80"/><circle cx="255.1" cy="65.9" r="1.80"/><circle cx="271.5" cy="65.9" r="1.80"/><circle cx="386.0" cy="343.7" r="1.80"/><circle cx="402.3" cy="343.7" r="1.80"/><circle cx="394.2" cy="351.9" r="1.80"/><circle cx="386.0" cy="360.1" r="1.80"/><circle cx="402.3" cy="360.1" r="1.80"/><circle cx="394.2" cy="368.2" r="1.80"/><circle cx="418.7" cy="458.1" r="1.80"/><circle cx="410.5" cy="466.3" r="1.80"/><circle cx="418.7" cy="474.4" r="1.80"/><circle cx="410.5" cy="482.6" r="1.80"/><circle cx="418.7" cy="490.8" r="1.80"/><circle cx="484.1" cy="490.8" r="1.80"/></g>
</g>
<rect x="0" y="0" width="826" height="495.5" fill="none" stroke="#000" stroke-width="3.6"/>
<g stroke="#000" stroke-linecap="round"><line x1="45.9" y1="0" x2="45.9" y2="-8" stroke-width="2"/><line x1="45.9" y1="495.5" x2="45.9" y2="503.5" stroke-width="2"/><line x1="91.8" y1="0" x2="91.8" y2="-8" stroke-width="2"/><line x1="91.8" y1="495.5" x2="91.8" y2="503.5" stroke-width="2"/><line x1="137.7" y1="0" x2="137.7" y2="-17" stroke-width="3.6"/><line x1="137.7" y1="495.5" x2="137.7" y2="512.5" stroke-width="3.6"/><line x1="183.6" y1="0" x2="183.6" y2="-8" stroke-width="2"/><line x1="183.6" y1="495.5" x2="183.6" y2="503.5" stroke-width="2"/><line x1="229.4" y1="0" x2="229.4" y2="-8" stroke-width="2"/><line x1="229.4" y1="495.5" x2="229.4" y2="503.5" stroke-width="2"/><line x1="275.3" y1="0" x2="275.3" y2="-17" stroke-width="3.6"/><line x1="275.3" y1="495.5" x2="275.3" y2="512.5" stroke-width="3.6"/><line x1="321.2" y1="0" x2="321.2" y2="-8" stroke-width="2"/><line x1="321.2" y1="495.5" x2="321.2" y2="503.5" stroke-width="2"/><line x1="367.1" y1="0" x2="367.1" y2="-8" stroke-width="2"/><line x1="367.1" y1="495.5" x2="367.1" y2="503.5" stroke-width="2"/><line x1="413" y1="0" x2="413" y2="-17" stroke-width="3.6"/><line x1="413" y1="495.5" x2="413" y2="512.5" stroke-width="3.6"/><line x1="458.9" y1="0" x2="458.9" y2="-8" stroke-width="2"/><line x1="458.9" y1="495.5" x2="458.9" y2="503.5" stroke-width="2"/><line x1="504.8" y1="0" x2="504.8" y2="-8" stroke-width="2"/><line x1="504.8" y1="495.5" x2="504.8" y2="503.5" stroke-width="2"/><line x1="550.7" y1="0" x2="550.7" y2="-17" stroke-width="3.6"/><line x1="550.7" y1="495.5" x2="550.7" y2="512.5" stroke-width="3.6"/><line x1="596.6" y1="0" x2="596.6" y2="-8" stroke-width="2"/><line x1="596.6" y1="495.5" x2="596.6" y2="503.5" stroke-width="2"/><line x1="642.4" y1="0" x2="642.4" y2="-8" stroke-width="2"/><line x1="642.4" y1="495.5" x2="642.4" y2="503.5" stroke-width="2"/><line x1="688.3" y1="0" x2="688.3" y2="-17" stroke-width="3.6"/><line x1="688.3" y1="495.5" x2="688.3" y2="512.5" stroke-width="3.6"/><line x1="734.2" y1="0" x2="734.2" y2="-8" stroke-width="2"/><line x1="734.2" y1="495.5" x2="734.2" y2="503.5" stroke-width="2"/><line x1="780.1" y1="0" x2="780.1" y2="-8" stroke-width="2"/><line x1="780.1" y1="495.5" x2="780.1" y2="503.5" stroke-width="2"/><line x1="0" y1="24.8" x2="-8" y2="24.8" stroke-width="2"/><line x1="826" y1="24.8" x2="834" y2="24.8" stroke-width="2"/><line x1="0" y1="49.6" x2="-8" y2="49.6" stroke-width="2"/><line x1="826" y1="49.6" x2="834" y2="49.6" stroke-width="2"/><line x1="0" y1="74.3" x2="-8" y2="74.3" stroke-width="2"/><line x1="826" y1="74.3" x2="834" y2="74.3" stroke-width="2"/><line x1="0" y1="99.1" x2="-17" y2="99.1" stroke-width="3.6"/><line x1="826" y1="99.1" x2="843" y2="99.1" stroke-width="3.6"/><line x1="0" y1="123.9" x2="-8" y2="123.9" stroke-width="2"/><line x1="826" y1="123.9" x2="834" y2="123.9" stroke-width="2"/><line x1="0" y1="148.7" x2="-8" y2="148.7" stroke-width="2"/><line x1="826" y1="148.7" x2="834" y2="148.7" stroke-width="2"/><line x1="0" y1="173.4" x2="-8" y2="173.4" stroke-width="2"/><line x1="826" y1="173.4" x2="834" y2="173.4" stroke-width="2"/><line x1="0" y1="198.2" x2="-17" y2="198.2" stroke-width="3.6"/><line x1="826" y1="198.2" x2="843" y2="198.2" stroke-width="3.6"/><line x1="0" y1="223" x2="-8" y2="223" stroke-width="2"/><line x1="826" y1="223" x2="834" y2="223" stroke-width="2"/><line x1="0" y1="247.8" x2="-8" y2="247.8" stroke-width="2"/><line x1="826" y1="247.8" x2="834" y2="247.8" stroke-width="2"/><line x1="0" y1="272.5" x2="-8" y2="272.5" stroke-width="2"/><line x1="826" y1="272.5" x2="834" y2="272.5" stroke-width="2"/><line x1="0" y1="297.3" x2="-17" y2="297.3" stroke-width="3.6"/><line x1="826" y1="297.3" x2="843" y2="297.3" stroke-width="3.6"/><line x1="0" y1="322.1" x2="-8" y2="322.1" stroke-width="2"/><line x1="826" y1="322.1" x2="834" y2="322.1" stroke-width="2"/><line x1="0" y1="346.8" x2="-8" y2="346.8" stroke-width="2"/><line x1="826" y1="346.8" x2="834" y2="346.8" stroke-width="2"/><line x1="0" y1="371.6" x2="-8" y2="371.6" stroke-width="2"/><line x1="826" y1="371.6" x2="834" y2="371.6" stroke-width="2"/><line x1="0" y1="396.4" x2="-17" y2="396.4" stroke-width="3.6"/><line x1="826" y1="396.4" x2="843" y2="396.4" stroke-width="3.6"/><line x1="0" y1="421.2" x2="-8" y2="421.2" stroke-width="2"/><line x1="826" y1="421.2" x2="834" y2="421.2" stroke-width="2"/><line x1="0" y1="445.9" x2="-8" y2="445.9" stroke-width="2"/><line x1="826" y1="445.9" x2="834" y2="445.9" stroke-width="2"/><line x1="0" y1="470.7" x2="-8" y2="470.7" stroke-width="2"/><line x1="826" y1="470.7" x2="834" y2="470.7" stroke-width="2"/><line x1="0" y1="495.5" x2="-17" y2="495.5" stroke-width="3.6"/><line x1="826" y1="495.5" x2="843" y2="495.5" stroke-width="3.6"/></g>
<g font-family="Liberation Sans, sans-serif" font-size="31" fill="#000"><text x="-38" y="110.1" text-anchor="end">200</text><text x="-38" y="209.2" text-anchor="end">400</text><text x="-38" y="308.3" text-anchor="end">600</text><text x="-38" y="407.4" text-anchor="end">800</text><text x="-38" y="506.5" text-anchor="end">1000</text><text x="134.2" y="558" text-anchor="middle">60°S</text><text x="271.8" y="558" text-anchor="middle">30°S</text><text x="411" y="558" text-anchor="middle">0</text><text x="547.2" y="558" text-anchor="middle">30°N</text><text x="684.8" y="558" text-anchor="middle">60°N</text></g>
<text font-family="Liberation Sans, sans-serif" font-size="38" transform="translate(-134,248.8) rotate(-90)" text-anchor="middle">pressure [hPa]</text>
<text font-family="Liberation Sans, sans-serif" font-size="41.5" transform="translate(-2.5,-27.5) scale(0.94,1)">(b)</text><text font-family="Liberation Sans, sans-serif" font-size="42.8" text-anchor="end" transform="translate(786.4,-32.8) scale(0.96,1)">HR</text><text font-family="Liberation Sans, sans-serif" font-size="26.3" transform="translate(785.37,-24.3) scale(0.97,1)">kpp</text>
</g>
<g transform="translate(178,767)">
<clipPath id="clipc"><rect x="0" y="0" width="826" height="495.5"/></clipPath>
<g clip-path="url(#clipc)">
<rect x="0" y="0" width="826" height="495.5" fill="#e1f1ef"/>
<path d="M-5,30C-5,30 -0.2,30.1 4,30C8.2,29.9 14,29.3 20,29.6C26,29.9 33.3,30.9 40,32C46.7,33.1 55.3,34.7 60,36C64.7,37.3 65.3,37.3 68,40C70.7,42.7 73.7,47.7 76,52C78.3,56.3 80,59.7 82,66C84,72.3 86.3,81 88,90C89.7,99 91,108.3 92,120C93,131.7 93.3,146.7 94,160C94.7,173.3 95.2,185.3 96,200C96.8,214.7 98.3,230 99,248C99.7,266 99.5,284.7 100,308C100.5,331.3 101.7,364.7 102,388C102.3,411.3 102.2,429.3 102,448C101.8,466.7 101,500 101,500C101,500 -5,500 -5,500C-5,500 -5,30 -5,30Z" fill="#f7e3a5"/>
<path d="M176,30C177,27.3 176,25.7 180,24C184,22.3 191.7,21 200,20C208.3,19 220,18.3 230,18C240,17.7 254,16.7 260,18C266,19.3 263.3,23.3 266,26C268.7,28.7 273,30.3 276,34C279,37.7 282,43 284,48C286,53 287.3,59.7 288,64C288.7,68.3 288.7,70.7 288,74C287.3,77.3 285.3,79.7 284,84C282.7,88.3 281,94 280,100C279,106 278,110 278,120C278,130 279,146.7 280,160C281,173.3 283.3,185.3 284,200C284.7,214.7 284.7,230 284,248C283.3,266 281.7,284.7 280,308C278.3,331.3 276,364.7 274,388C272,411.3 269.7,429.3 268,448C266.3,466.7 264,500 264,500C264,500 170,500 170,500C170,500 177,461.7 180,448C183,434.3 186.7,434.7 188,418C189.3,401.3 188.7,376.3 188,348C187.3,319.7 184.7,269.3 184,248C183.3,226.7 184.7,231.3 184,220C183.3,208.7 181.7,193.3 180,180C178.3,166.7 175.7,153.3 174,140C172.3,126.7 170.3,110 170,100C169.7,90 171.3,90 172,80C172.7,70 173.3,48.3 174,40C174.7,31.7 175,32.7 176,30Z" fill="#f7e3a5"/>
<path d="M380,48C377.2,52 379.3,63 378,70C376.7,77 374.3,83.3 372,90C369.7,96.7 367,104 364,110C361,116 357,120.3 354,126C351,131.7 347.3,135 346,144C344.7,153 345.7,167.3 346,180C346.3,192.7 347,208.7 348,220C349,231.3 351.5,235 352,248C352.5,261 353,283 351,298C349,313 343.5,323 340,338C336.5,353 333,374.3 330,388C327,401.7 322.3,411.7 322,420C321.7,428.3 325,432.3 328,438C331,443.7 338,443.7 340,454C342,464.3 340,500 340,500C340,500 665,500 665,500C665,500 663.7,453.3 664,428C664.3,402.7 666.5,378 667,348C667.5,318 666.7,276 667,248C667.3,220 668.3,198 669,180C669.7,162 670.3,149.3 671,140C671.7,130.7 671.3,128.7 673,124C674.7,119.3 678.3,116.7 681,112C683.7,107.3 687.3,103 689,96C690.7,89 691,79.3 691,70C691,60.7 691,48.3 689,40C687,31.7 685,25.3 679,20C673,14.7 659.5,12.2 653,8C646.5,3.8 640,-5 640,-5C640,-5 485,-5 485,-5C485,-5 485.5,7.2 483,14C480.5,20.8 477.2,31.7 470,36C462.8,40.3 449.5,38.7 440,40C430.5,41.3 420.5,43 413,44C405.5,45 400.5,45.3 395,46C389.5,46.7 382.8,44 380,48Z" fill="#f7e3a5"/>
<path d="M98,-5C98,-5 140,-5 140,-5C140,-5 135.3,4.7 132,7C128.7,9.3 124.3,9 120,9C115.7,9 109.7,9.3 106,7C102.3,4.7 98,-5 98,-5Z" fill="#f7e3a5"/>
<path d="M272,8C273.7,7.2 283.3,6.7 290,5C296.7,3.3 312,-2 312,-2C312,-2 305.3,6 300,8C294.7,10 284.7,10 280,10C275.3,10 270.3,8.8 272,8Z" fill="#f7e3a5"/>
<path d="M729,500C729,500 731.3,454 733,446C734.7,438 737.7,443 739,452C740.3,461 741,500 741,500C741,500 729,500 729,500Z" fill="#f7e3a5"/>
<path d="M743,500C743,500 748.3,461 750,461C751.7,461 753,500 753,500C753,500 743,500 743,500Z" fill="#f7e3a5"/>
<path d="M786,500C786,500 788.5,456 790,456C791.5,456 795,500 795,500C795,500 786,500 786,500Z" fill="#f7e3a5"/>
<path d="M802,500C802,500 807,443.2 809,428C811,412.8 812.7,409 814,409C815.3,409 816.5,412.8 817,428C817.5,443.2 817,500 817,500C817,500 802,500 802,500Z" fill="#f7e3a5"/>
<path d="M457,48C459.5,42 460.7,45.7 470,44C479.3,42.3 502.5,41.7 513,38C523.5,34.3 526.3,25 533,22C539.7,19 549,18.7 553,20C557,21.3 555,25.7 557,30C559,34.3 562.7,41 565,46C567.3,51 569,54.3 571,60C573,65.7 575.3,73.3 577,80C578.7,86.7 579.7,91.7 581,100C582.3,108.3 583.7,120 585,130C586.3,140 588,148.3 589,160C590,171.7 590.3,185.3 591,200C591.7,214.7 593.7,235 593,248C592.3,261 588.7,268 587,278C585.3,288 584.3,296.3 583,308C581.7,319.7 580,333 579,348C578,363 578,383 577,398C576,413 574.7,428 573,438C571.3,448 568.3,447.7 567,458C565.7,468.3 565,500 565,500C565,500 488,500 488,500C488,500 487.8,471 489,458C490.2,445 495,433.7 495,422C495,410.3 491,398.7 489,388C487,377.3 484.7,367.3 483,358C481.3,348.7 481,340.3 479,332C477,323.7 473.5,315.3 471,308C468.5,300.7 465.2,298 464,288C462.8,278 464.2,262.7 464,248C463.8,233.3 463.5,214.7 463,200C462.5,185.3 462,173.3 461,160C460,146.7 458,133.3 457,120C456,106.7 455,92 455,80C455,68 454.5,54 457,48Z" fill="#e1f1ef"/>
<path d="M413,398C416.2,393 417,393.3 419,394C421,394.7 422.7,396.3 425,402C427.3,407.7 431.3,420.3 433,428C434.7,435.7 433.7,443 435,448C436.3,453 440,449.3 441,458C442,466.7 441,500 441,500C441,500 439,500 439,500C439,500 440,484 439,480C438,476 435.3,472.7 433,476C430.7,479.3 425,500 425,500C425,500 413,500 413,500C413,500 404.8,492 400,490C395.2,488 388,488.3 384,488C380,487.7 378.3,491.3 376,488C373.7,484.7 372.3,473.3 370,468C367.7,462.7 358.3,461 362,456C365.7,451 385.7,443.3 392,438C398.3,432.7 396.5,430.7 400,424C403.5,417.3 409.8,403 413,398Z" fill="#e1f1ef"/>
<path d="M30,500C30,500 32.7,448.7 34,440C35.3,431.3 36.2,452.7 38,448C39.8,443.3 43,415.3 45,412C47,408.7 49.2,413.3 50,428C50.8,442.7 50,500 50,500C50,500 30,500 30,500Z" fill="#e1f1ef"/>
<path d="M56,101C60.7,101 64.7,102.5 68,106C71.3,109.5 73.8,114.7 76,122C78.2,129.3 80,140.3 81,150C82,159.7 81.8,168.3 82,180C82.2,191.7 82,208.7 82,220C82,231.3 81.7,235 82,248C82.3,261 84,287.3 84,298C84,308.7 84,306 82,312C80,318 74.3,329.3 72,334C69.7,338.7 68.8,328.7 68,340C67.2,351.3 67.3,391.7 67,402C66.7,412.3 66.3,412.7 66,402C65.7,391.3 65.7,353.7 65,338C64.3,322.3 63.5,318 62,308C60.5,298 58.7,288 56,278C53.3,268 48.7,257.7 46,248C43.3,238.3 42,228 40,220C38,212 35.7,206.7 34,200C32.3,193.3 31,188.3 30,180C29,171.7 28,159.3 28,150C28,140.7 28,131.3 30,124C32,116.7 35.7,109.8 40,106C44.3,102.2 51.3,101 56,101Z" fill="#fbc174" stroke="#000" stroke-width="1.6" stroke-linejoin="round"/>
<path d="M10,334C10.7,321.3 12.3,311 14,308C15.7,305 18.2,312.7 20,316C21.8,319.3 24.2,317 25,328C25.8,339 25.5,375.3 25,382C24.5,388.7 23.2,372.3 22,368C20.8,363.7 19.3,348.3 18,356C16.7,363.7 15.3,409.3 14,414C12.7,418.7 10.7,397.3 10,384C9.3,370.7 9.3,346.7 10,334Z" fill="#fbc174" stroke="#000" stroke-width="1.6" stroke-linejoin="round"/>
<path d="M230,30C238.3,30 244.7,32 250,36C255.3,40 258.7,47.7 262,54C265.3,60.3 269,68 270,74C271,80 268.7,82.3 268,90C267.3,97.7 266.7,108.3 266,120C265.3,131.7 265,146.7 264,160C263,173.3 261.3,185.3 260,200C258.7,214.7 258.7,226.7 256,248C253.3,269.3 247.3,310.7 244,328C240.7,345.3 239,346.2 236,352C233,357.8 228.3,361.2 226,363C223.7,364.8 223.7,365.5 222,363C220.3,360.5 218,357.2 216,348C214,338.8 212.3,324.7 210,308C207.7,291.3 203.7,264.3 202,248C200.3,231.7 201,221.3 200,210C199,198.7 197.7,190 196,180C194.3,170 192,160 190,150C188,140 185.5,129 184,120C182.5,111 181,104.3 181,96C181,87.7 182.5,77.7 184,70C185.5,62.3 187.3,55.7 190,50C192.7,44.3 193.3,39.3 200,36C206.7,32.7 221.7,30 230,30Z" fill="#fbc174" stroke="#000" stroke-width="1.6" stroke-linejoin="round"/>
<path d="M392,48C396,44 411.2,46 420,46C428.8,46 441.3,42.3 445,48C448.7,53.7 442.3,68 442,80C441.7,92 442,106.7 443,120C444,133.3 446.5,146.7 448,160C449.5,173.3 451.8,188.3 452,200C452.2,211.7 450.5,222 449,230C447.5,238 445.7,241 443,248C440.3,255 436.7,265 433,272C429.3,279 424.3,286.3 421,290C417.7,293.7 416.5,295 413,294C409.5,293 403.8,288.3 400,284C396.2,279.7 393,274 390,268C387,262 384.3,256 382,248C379.7,240 377.7,229.7 376,220C374.3,210.3 372.3,200 372,190C371.7,180 372.7,170 374,160C375.3,150 377.7,138.3 380,130C382.3,121.7 385.7,116.7 388,110C390.3,103.3 392.7,96.7 394,90C395.3,83.3 396.3,77 396,70C395.7,63 388,52 392,48Z" fill="#fbc174" stroke="#000" stroke-width="1.6" stroke-linejoin="round"/>
<path d="M589,32C591.8,29.3 599.3,24 605,22C610.7,20 616.7,20 623,20C629.3,20 637.3,19.7 643,22C648.7,24.3 653.3,29.3 657,34C660.7,38.7 663.2,44 665,50C666.8,56 667.8,63.3 668,70C668.2,76.7 667.5,84.3 666,90C664.5,95.7 662.2,99.7 659,104C655.8,108.3 651,113 647,116C643,119 638.7,121.3 635,122C631.3,122.7 628.7,122.3 625,120C621.3,117.7 616.7,112.7 613,108C609.3,103.3 606,98.3 603,92C600,85.7 597.3,77 595,70C592.7,63 590.2,55.3 589,50C587.8,44.7 588,41 588,38C588,35 586.2,34.7 589,32Z" fill="#fbc174" stroke="#000" stroke-width="1.6" stroke-linejoin="round"/>
<path d="M296,3C297.7,1.7 312,1.2 320,1C328,0.8 340.7,0.8 344,2C347.3,3.2 345.7,6.8 340,8C334.3,9.2 317.3,9.8 310,9C302.7,8.2 294.3,4.3 296,3Z" fill="#fbc174" stroke="#000" stroke-width="1.6" stroke-linejoin="round"/>
<path d="M471,3C479.2,1.5 500.8,1.2 520,1C539.2,0.8 575,0.8 586,2C597,3.2 593.7,6.7 586,8C578.3,9.3 556,9.5 540,10C524,10.5 501.5,11 490,11C478.5,11 474.2,11.3 471,10C467.8,8.7 462.8,4.5 471,3Z" fill="#fbc174" stroke="#000" stroke-width="1.6" stroke-linejoin="round"/>
<path d="M226,60C230.7,60 235.7,61.3 240,64C244.3,66.7 249.5,70.3 252,76C254.5,81.7 255,90 255,98C255,106 253.8,115 252,124C250.2,133 247,142.7 244,152C241,161.3 237,174.2 234,180C231,185.8 229,187.7 226,187C223,186.3 219.3,182.2 216,176C212.7,169.8 209,159.3 206,150C203,140.7 200,128.7 198,120C196,111.3 193.3,105.3 194,98C194.7,90.7 199,81.7 202,76C205,70.3 208,66.7 212,64C216,61.3 221.3,60 226,60Z" fill="#fb9155" stroke="#000" stroke-width="1.6" stroke-linejoin="round"/>
<path d="M406,49C409.3,46.5 429.7,47.2 433,49C436.3,50.8 428.2,57.2 426,60C423.8,62.8 422.2,65.3 420,66C417.8,66.7 415.3,66.8 413,64C410.7,61.2 402.7,51.5 406,49Z" fill="#fb9155" stroke="#000" stroke-width="1.6" stroke-linejoin="round"/>
<path d="M413,132C415.8,129.8 418,129.7 421,131C424,132.3 428.3,133.5 431,140C433.7,146.5 435.8,161.7 437,170C438.2,178.3 438.3,183.3 438,190C437.7,196.7 437.2,203.3 435,210C432.8,216.7 428.7,226.3 425,230C421.3,233.7 416.5,233.7 413,232C409.5,230.3 406.5,226 404,220C401.5,214 399,204.3 398,196C397,187.7 397,178.7 398,170C399,161.3 401.5,150.3 404,144C406.5,137.7 410.2,134.2 413,132Z" fill="#fb9155" stroke="#000" stroke-width="1.6" stroke-linejoin="round"/>
<path d="M480,3C488.3,2.2 526.7,1.8 540,2C553.3,2.2 561.7,3.2 560,4C558.3,4.8 541.7,6.5 530,7C518.3,7.5 498.3,7.7 490,7C481.7,6.3 471.7,3.8 480,3Z" fill="#fb9155" stroke="#000" stroke-width="1.6" stroke-linejoin="round"/>
<path d="M220,98C220.7,97.5 229,97.5 230,98C231,98.5 227.7,101 226,101C224.3,101 219.3,98.5 220,98Z" fill="#ec5b3c" stroke="#000" stroke-width="1.6" stroke-linejoin="round"/>
<path d="M132,31.6C136.3,31.4 140.7,32.6 144,35C147.3,37.4 150.2,40.2 152,46C153.8,51.8 154.5,61 155,70C155.5,79 154.2,91 155,100C155.8,109 158.5,114 160,124C161.5,134 162.8,147.3 164,160C165.2,172.7 166.2,185.3 167,200C167.8,214.7 168.7,226.7 169,248C169.3,269.3 169.8,303 169,328C168.2,353 166.2,380 164,398C161.8,416 160,425.3 156,436C152,446.7 145.3,456 140,462C134.7,468 128,471 124,472C120,473 117.5,472 116,468C114.5,464 115.5,468 115,448C114.5,428 113.5,381.3 113,348C112.5,314.7 112.3,276 112,248C111.7,220 111.2,201.3 111,180C110.8,158.7 110.8,136.7 111,120C111.2,103.3 111.5,92.3 112,80C112.5,67.7 113,53.3 114,46C115,38.7 115,38.4 118,36C121,33.6 127.7,31.8 132,31.6Z" fill="#b9e0ee" stroke="#000" stroke-width="1.6" stroke-linejoin="round"/>
<path d="M138,138C140.2,138 143.3,138.7 145,144C146.7,149.3 147.3,160.7 148,170C148.7,179.3 148.8,187 149,200C149.2,213 150.3,234.3 149,248C147.7,261.7 143.7,282 141,282C138.3,282 134.5,258.3 133,248C131.5,237.7 132.3,231.3 132,220C131.7,208.7 131,192.7 131,180C131,167.3 130.8,151 132,144C133.2,137 135.8,138 138,138Z" fill="#8bbddb" stroke="#000" stroke-width="1.6" stroke-linejoin="round"/>
<path d="M310,93C313.7,92.7 318.3,94.8 320,98C321.7,101.2 320.7,107 320,112C319.3,117 318,124 316,128C314,132 310.7,136 308,136C305.3,136 301.8,131 300,128C298.2,125 297.3,122.7 297,118C296.7,113.3 295.8,104.2 298,100C300.2,95.8 306.3,93.3 310,93Z" fill="#b9e0ee" stroke="#000" stroke-width="1.6" stroke-linejoin="round"/>
<path d="M288,23.5C292,21.9 302.7,16.4 312,14.8C321.3,13.2 335.6,12.9 343.8,14C352,15.1 354.8,18.7 361.4,21.1C368,23.5 374.6,26.2 383.7,28.3C392.8,30.4 401,33.2 415.7,33.9C430.4,34.6 455.6,33.8 471.6,32.3C487.6,30.8 503.3,25 511.5,25.1C519.7,25.2 525,30 521,33.1C517,36.2 497.1,42 487.5,43.5C477.9,45 475.6,42.4 463.6,41.9C451.6,41.4 429,40.6 415.7,40.3C402.4,40 393,37.9 383.7,40.3C374.4,42.7 366.4,51.8 359.8,54.7C353.2,57.6 349.1,58.2 343.8,57.9C338.5,57.6 334.5,56.2 327.9,53C321.2,49.8 310.5,43.5 303.9,38.7C297.2,33.9 290.6,26.8 288,24.3C285.4,21.8 284,25.1 288,23.5Z" fill="#b9e0ee" stroke="#000" stroke-width="1.6" stroke-linejoin="round"/>
<path d="M308.7,23.5C308.7,22.4 314.8,21.4 319.9,21.1C324.9,20.9 332.4,20.8 339,22C345.6,23.2 353.7,26.6 359.8,28.3C365.9,30 366.5,31.3 375.8,32.3C385.1,33.2 402.4,33.9 415.7,34C429,34.1 451.6,32.9 455.6,33.1C459.6,33.4 451.6,35 439.6,35.5C427.6,36 399.7,36.7 383.7,36.3C367.7,35.9 354.4,34.6 343.8,33.1C333.2,31.6 325.8,29.1 319.9,27.5C314,25.9 308.7,24.6 308.7,23.5Z" fill="#8bbddb" stroke="#000" stroke-width="1.6" stroke-linejoin="round"/>
<path d="M481,62C483.3,59.3 485.3,60 489,60C492.7,60 498.3,60 503,62C507.7,64 512.7,68.3 517,72C521.3,75.7 525.7,79.7 529,84C532.3,88.3 536.3,92.7 537,98C537.7,103.3 535,110.3 533,116C531,121.7 528.3,126.7 525,132C521.7,137.3 516.3,143 513,148C509.7,153 507.7,157.7 505,162C502.3,166.3 499.7,172.7 497,174C494.3,175.3 491.3,173.7 489,170C486.7,166.3 485,158.7 483,152C481,145.3 478.5,137 477,130C475.5,123 474.7,116.3 474,110C473.3,103.7 472.8,97.7 473,92C473.2,86.3 473.7,81 475,76C476.3,71 478.7,64.7 481,62Z" fill="#b9e0ee" stroke="#000" stroke-width="1.6" stroke-linejoin="round"/>
<path d="M640,-5C640,-5 660.8,2.8 673,6C685.2,9.2 703,11.3 713,14C723,16.7 727.7,18.7 733,22C738.3,25.3 742,29.7 745,34C748,38.3 749,43.7 751,48C753,52.3 755,57.2 757,60C759,62.8 760.7,65.3 763,65C765.3,64.7 768.8,60.8 771,58C773.2,55.2 776,51.3 776,48C776,44.7 772.8,40.3 771,38C769.2,35.7 764,36.3 765,34C766,31.7 772.3,27.7 777,24C781.7,20.3 789.7,14.7 793,12C796.3,9.3 795.8,10.8 797,8C798.2,5.2 800,-5 800,-5C800,-5 640,-5 640,-5Z" fill="#b9e0ee" stroke="#000" stroke-width="1.6" stroke-linejoin="round"/>
<path d="M707,122C710.3,120 719.3,116.3 725,116C730.7,115.7 737.3,117.7 741,120C744.7,122.3 743.7,125.3 747,130C750.3,134.7 760,143 761,148C762,153 757.7,157 753,160C748.3,163 739,163.3 733,166C727,168.7 721.3,176 717,176C712.7,176 709.3,171 707,166C704.7,161 703.3,152.3 703,146C702.7,139.7 704.3,132 705,128C705.7,124 703.7,124 707,122Z" fill="#b9e0ee" stroke="#000" stroke-width="1.6" stroke-linejoin="round"/>
<path d="M14,-3C14,-3 24,5.5 30,8C36,10.5 43.3,12 50,12C56.7,12 64.3,10.5 70,8C75.7,5.5 84,-3 84,-3C84,-3 14,-3 14,-3Z" fill="#b9e0ee" stroke="#000" stroke-width="1.6" stroke-linejoin="round"/>
<path d="M28,-2C28,-2 43,4 50,4C57,4 70,-2 70,-2C70,-2 28,-2 28,-2Z" fill="#8bbddb" stroke="#000" stroke-width="1.6" stroke-linejoin="round"/>
<path d="M154,-3C154,-3 152.3,9.2 160,12C167.7,14.8 186.7,14.3 200,14C213.3,13.7 227.3,11.7 240,10C252.7,8.3 269.3,6.2 276,4C282.7,1.8 280,-3 280,-3C280,-3 154,-3 154,-3Z" fill="#b9e0ee" stroke="#000" stroke-width="1.6" stroke-linejoin="round"/>
<path d="M176,-1C176,-1 189.3,5 200,6C210.7,7 229.7,6.2 240,5C250.3,3.8 262,-1 262,-1C262,-1 176,-1 176,-1Z" fill="#8bbddb" stroke="#000" stroke-width="1.6" stroke-linejoin="round"/><path d="M296.0,-4 L586.0,-4 L586.0,2 C566.0,3 546.0,3.5 526.0,3.5 L356.0,3.5 C336.0,3.5 316.0,3 296.0,2Z" fill="#000"/>
<path d="M334.0,-4 L479.0,-4 L471.0,11.5 L342.0,11.5 Z" fill="#000"/>
<path d="M355.0,10.5 C367.0,19.5 378.0,30.0 413.0,29.0 C448.0,30.0 459.0,19.5 471.0,10.5 Z" fill="#2e0805" stroke="#000" stroke-width="1.4"/>
<path d="M357.2,11.5 C369.2,18.5 378.0,27.8 413.0,26.8 C448.0,27.8 456.8,18.5 468.8,11.5" fill="none" stroke="#d06030" stroke-width="0.8" opacity="0.8"/>
<path d="M359.2,11.5 C371.2,18.5 378.0,25.8 413.0,24.8 C448.0,25.8 454.8,18.5 466.8,11.5" fill="none" stroke="#f0a060" stroke-width="0.8" opacity="0.8"/>
<path d="M355,34 C390,31 430,31 470,34 C440,38 390,38 355,34Z" fill="#6195c8" stroke="#000" stroke-width="1.2"/><g fill="#000"><circle cx="611.3" cy="15.0" r="1.80"/><circle cx="627.6" cy="15.0" r="1.80"/><circle cx="586.9" cy="23.1" r="1.80"/><circle cx="603.2" cy="23.1" r="1.80"/><circle cx="619.5" cy="23.1" r="1.80"/><circle cx="529.8" cy="31.3" r="1.80"/><circle cx="546.1" cy="31.3" r="1.80"/><circle cx="562.4" cy="31.3" r="1.80"/><circle cx="578.7" cy="31.3" r="1.80"/><circle cx="595.0" cy="31.3" r="1.80"/><circle cx="611.3" cy="31.3" r="1.80"/><circle cx="472.8" cy="39.4" r="1.80"/><circle cx="489.1" cy="39.4" r="1.80"/><circle cx="505.4" cy="39.4" r="1.80"/><circle cx="521.6" cy="39.4" r="1.80"/><circle cx="538.0" cy="39.4" r="1.80"/><circle cx="554.2" cy="39.4" r="1.80"/><circle cx="570.6" cy="39.4" r="1.80"/><circle cx="586.9" cy="39.4" r="1.80"/><circle cx="603.2" cy="39.4" r="1.80"/><circle cx="464.6" cy="47.6" r="1.80"/><circle cx="480.9" cy="47.6" r="1.80"/><circle cx="497.2" cy="47.6" r="1.80"/><circle cx="513.5" cy="47.6" r="1.80"/><circle cx="529.8" cy="47.6" r="1.80"/><circle cx="546.1" cy="47.6" r="1.80"/><circle cx="562.4" cy="47.6" r="1.80"/><circle cx="578.7" cy="47.6" r="1.80"/><circle cx="595.0" cy="47.6" r="1.80"/><circle cx="611.3" cy="47.6" r="1.80"/><circle cx="472.8" cy="55.8" r="1.80"/><circle cx="489.1" cy="55.8" r="1.80"/><circle cx="505.4" cy="55.8" r="1.80"/><circle cx="521.6" cy="55.8" r="1.80"/><circle cx="538.0" cy="55.8" r="1.80"/><circle cx="554.2" cy="55.8" r="1.80"/><circle cx="570.6" cy="55.8" r="1.80"/><circle cx="586.9" cy="55.8" r="1.80"/><circle cx="603.2" cy="55.8" r="1.80"/><circle cx="464.6" cy="63.9" r="1.80"/><circle cx="480.9" cy="63.9" r="1.80"/><circle cx="497.2" cy="63.9" r="1.80"/><circle cx="513.5" cy="63.9" r="1.80"/><circle cx="529.8" cy="63.9" r="1.80"/><circle cx="546.1" cy="63.9" r="1.80"/><circle cx="562.4" cy="63.9" r="1.80"/><circle cx="578.7" cy="63.9" r="1.80"/><circle cx="595.0" cy="63.9" r="1.80"/><circle cx="472.8" cy="72.1" r="1.80"/><circle cx="489.1" cy="72.1" r="1.80"/><circle cx="505.4" cy="72.1" r="1.80"/><circle cx="521.6" cy="72.1" r="1.80"/><circle cx="538.0" cy="72.1" r="1.80"/><circle cx="554.2" cy="72.1" r="1.80"/><circle cx="570.6" cy="72.1" r="1.80"/><circle cx="586.9" cy="72.1" r="1.80"/><circle cx="603.2" cy="72.1" r="1.80"/><circle cx="480.9" cy="80.2" r="1.80"/><circle cx="497.2" cy="80.2" r="1.80"/><circle cx="513.5" cy="80.2" r="1.80"/><circle cx="529.8" cy="80.2" r="1.80"/><circle cx="546.1" cy="80.2" r="1.80"/><circle cx="562.4" cy="80.2" r="1.80"/><circle cx="578.7" cy="80.2" r="1.80"/><circle cx="595.0" cy="80.2" r="1.80"/><circle cx="472.8" cy="88.4" r="1.80"/><circle cx="489.1" cy="88.4" r="1.80"/><circle cx="505.4" cy="88.4" r="1.80"/><circle cx="521.6" cy="88.4" r="1.80"/><circle cx="538.0" cy="88.4" r="1.80"/><circle cx="554.2" cy="88.4" r="1.80"/><circle cx="570.6" cy="88.4" r="1.80"/><circle cx="586.9" cy="88.4" r="1.80"/><circle cx="603.2" cy="88.4" r="1.80"/><circle cx="383.1" cy="96.6" r="1.80"/><circle cx="399.4" cy="96.6" r="1.80"/><circle cx="480.9" cy="96.6" r="1.80"/><circle cx="497.2" cy="96.6" r="1.80"/><circle cx="513.5" cy="96.6" r="1.80"/><circle cx="529.8" cy="96.6" r="1.80"/><circle cx="546.1" cy="96.6" r="1.80"/><circle cx="562.4" cy="96.6" r="1.80"/><circle cx="578.7" cy="96.6" r="1.80"/><circle cx="595.0" cy="96.6" r="1.80"/><circle cx="375.0" cy="104.7" r="1.80"/><circle cx="391.3" cy="104.7" r="1.80"/><circle cx="407.6" cy="104.7" r="1.80"/><circle cx="472.8" cy="104.7" r="1.80"/><circle cx="489.1" cy="104.7" r="1.80"/><circle cx="505.4" cy="104.7" r="1.80"/><circle cx="521.6" cy="104.7" r="1.80"/><circle cx="538.0" cy="104.7" r="1.80"/><circle cx="554.2" cy="104.7" r="1.80"/><circle cx="570.6" cy="104.7" r="1.80"/><circle cx="586.9" cy="104.7" r="1.80"/><circle cx="603.2" cy="104.7" r="1.80"/><circle cx="383.1" cy="112.9" r="1.80"/><circle cx="399.4" cy="112.9" r="1.80"/><circle cx="480.9" cy="112.9" r="1.80"/><circle cx="497.2" cy="112.9" r="1.80"/><circle cx="513.5" cy="112.9" r="1.80"/><circle cx="529.8" cy="112.9" r="1.80"/><circle cx="546.1" cy="112.9" r="1.80"/><circle cx="562.4" cy="112.9" r="1.80"/><circle cx="578.7" cy="112.9" r="1.80"/><circle cx="595.0" cy="112.9" r="1.80"/><circle cx="375.0" cy="121.0" r="1.80"/><circle cx="391.3" cy="121.0" r="1.80"/><circle cx="407.6" cy="121.0" r="1.80"/><circle cx="472.8" cy="121.0" r="1.80"/><circle cx="489.1" cy="121.0" r="1.80"/><circle cx="505.4" cy="121.0" r="1.80"/><circle cx="521.6" cy="121.0" r="1.80"/><circle cx="538.0" cy="121.0" r="1.80"/><circle cx="554.2" cy="121.0" r="1.80"/><circle cx="570.6" cy="121.0" r="1.80"/><circle cx="586.9" cy="121.0" r="1.80"/><circle cx="603.2" cy="121.0" r="1.80"/><circle cx="383.1" cy="129.2" r="1.80"/><circle cx="399.4" cy="129.2" r="1.80"/><circle cx="464.6" cy="129.2" r="1.80"/><circle cx="480.9" cy="129.2" r="1.80"/><circle cx="497.2" cy="129.2" r="1.80"/><circle cx="513.5" cy="129.2" r="1.80"/><circle cx="529.8" cy="129.2" r="1.80"/><circle cx="546.1" cy="129.2" r="1.80"/><circle cx="562.4" cy="129.2" r="1.80"/><circle cx="578.7" cy="129.2" r="1.80"/><circle cx="595.0" cy="129.2" r="1.80"/><circle cx="375.0" cy="137.4" r="1.80"/><circle cx="391.3" cy="137.4" r="1.80"/><circle cx="407.6" cy="137.4" r="1.80"/><circle cx="472.8" cy="137.4" r="1.80"/><circle cx="489.1" cy="137.4" r="1.80"/><circle cx="505.4" cy="137.4" r="1.80"/><circle cx="521.6" cy="137.4" r="1.80"/><circle cx="538.0" cy="137.4" r="1.80"/><circle cx="554.2" cy="137.4" r="1.80"/><circle cx="570.6" cy="137.4" r="1.80"/><circle cx="586.9" cy="137.4" r="1.80"/><circle cx="383.1" cy="145.5" r="1.80"/><circle cx="399.4" cy="145.5" r="1.80"/><circle cx="464.6" cy="145.5" r="1.80"/><circle cx="480.9" cy="145.5" r="1.80"/><circle cx="497.2" cy="145.5" r="1.80"/><circle cx="513.5" cy="145.5" r="1.80"/><circle cx="529.8" cy="145.5" r="1.80"/><circle cx="546.1" cy="145.5" r="1.80"/><circle cx="562.4" cy="145.5" r="1.80"/><circle cx="578.7" cy="145.5" r="1.80"/><circle cx="595.0" cy="145.5" r="1.80"/><circle cx="375.0" cy="153.7" r="1.80"/><circle cx="391.3" cy="153.7" r="1.80"/><circle cx="472.8" cy="153.7" r="1.80"/><circle cx="489.1" cy="153.7" r="1.80"/><circle cx="505.4" cy="153.7" r="1.80"/><circle cx="521.6" cy="153.7" r="1.80"/><circle cx="538.0" cy="153.7" r="1.80"/><circle cx="554.2" cy="153.7" r="1.80"/><circle cx="570.6" cy="153.7" r="1.80"/><circle cx="586.9" cy="153.7" r="1.80"/><circle cx="383.1" cy="161.8" r="1.80"/><circle cx="464.6" cy="161.8" r="1.80"/><circle cx="480.9" cy="161.8" r="1.80"/><circle cx="497.2" cy="161.8" r="1.80"/><circle cx="513.5" cy="161.8" r="1.80"/><circle cx="529.8" cy="161.8" r="1.80"/><circle cx="546.1" cy="161.8" r="1.80"/><circle cx="562.4" cy="161.8" r="1.80"/><circle cx="578.7" cy="161.8" r="1.80"/><circle cx="595.0" cy="161.8" r="1.80"/><circle cx="472.8" cy="170.0" r="1.80"/><circle cx="489.1" cy="170.0" r="1.80"/><circle cx="505.4" cy="170.0" r="1.80"/><circle cx="521.6" cy="170.0" r="1.80"/><circle cx="538.0" cy="170.0" r="1.80"/><circle cx="554.2" cy="170.0" r="1.80"/><circle cx="570.6" cy="170.0" r="1.80"/><circle cx="586.9" cy="170.0" r="1.80"/><circle cx="383.1" cy="178.2" r="1.80"/><circle cx="464.6" cy="178.2" r="1.80"/><circle cx="480.9" cy="178.2" r="1.80"/><circle cx="497.2" cy="178.2" r="1.80"/><circle cx="513.5" cy="178.2" r="1.80"/><circle cx="529.8" cy="178.2" r="1.80"/><circle cx="546.1" cy="178.2" r="1.80"/><circle cx="562.4" cy="178.2" r="1.80"/><circle cx="578.7" cy="178.2" r="1.80"/><circle cx="595.0" cy="178.2" r="1.80"/><circle cx="472.8" cy="186.3" r="1.80"/><circle cx="489.1" cy="186.3" r="1.80"/><circle cx="505.4" cy="186.3" r="1.80"/><circle cx="521.6" cy="186.3" r="1.80"/><circle cx="538.0" cy="186.3" r="1.80"/><circle cx="554.2" cy="186.3" r="1.80"/><circle cx="570.6" cy="186.3" r="1.80"/><circle cx="586.9" cy="186.3" r="1.80"/><circle cx="464.6" cy="194.5" r="1.80"/><circle cx="480.9" cy="194.5" r="1.80"/><circle cx="497.2" cy="194.5" r="1.80"/><circle cx="513.5" cy="194.5" r="1.80"/><circle cx="529.8" cy="194.5" r="1.80"/><circle cx="546.1" cy="194.5" r="1.80"/><circle cx="562.4" cy="194.5" r="1.80"/><circle cx="578.7" cy="194.5" r="1.80"/><circle cx="595.0" cy="194.5" r="1.80"/><circle cx="472.8" cy="202.6" r="1.80"/><circle cx="489.1" cy="202.6" r="1.80"/><circle cx="505.4" cy="202.6" r="1.80"/><circle cx="521.6" cy="202.6" r="1.80"/><circle cx="538.0" cy="202.6" r="1.80"/><circle cx="554.2" cy="202.6" r="1.80"/><circle cx="570.6" cy="202.6" r="1.80"/><circle cx="586.9" cy="202.6" r="1.80"/><circle cx="464.6" cy="210.8" r="1.80"/><circle cx="480.9" cy="210.8" r="1.80"/><circle cx="497.2" cy="210.8" r="1.80"/><circle cx="513.5" cy="210.8" r="1.80"/><circle cx="529.8" cy="210.8" r="1.80"/><circle cx="546.1" cy="210.8" r="1.80"/><circle cx="562.4" cy="210.8" r="1.80"/><circle cx="578.7" cy="210.8" r="1.80"/><circle cx="595.0" cy="210.8" r="1.80"/><circle cx="472.8" cy="219.0" r="1.80"/><circle cx="489.1" cy="219.0" r="1.80"/><circle cx="505.4" cy="219.0" r="1.80"/><circle cx="521.6" cy="219.0" r="1.80"/><circle cx="538.0" cy="219.0" r="1.80"/><circle cx="554.2" cy="219.0" r="1.80"/><circle cx="570.6" cy="219.0" r="1.80"/><circle cx="586.9" cy="219.0" r="1.80"/><circle cx="464.6" cy="227.1" r="1.80"/><circle cx="480.9" cy="227.1" r="1.80"/><circle cx="497.2" cy="227.1" r="1.80"/><circle cx="513.5" cy="227.1" r="1.80"/><circle cx="529.8" cy="227.1" r="1.80"/><circle cx="546.1" cy="227.1" r="1.80"/><circle cx="562.4" cy="227.1" r="1.80"/><circle cx="578.7" cy="227.1" r="1.80"/><circle cx="472.8" cy="235.3" r="1.80"/><circle cx="489.1" cy="235.3" r="1.80"/><circle cx="505.4" cy="235.3" r="1.80"/><circle cx="521.6" cy="235.3" r="1.80"/><circle cx="538.0" cy="235.3" r="1.80"/><circle cx="554.2" cy="235.3" r="1.80"/><circle cx="570.6" cy="235.3" r="1.80"/><circle cx="586.9" cy="235.3" r="1.80"/><circle cx="464.6" cy="243.4" r="1.80"/><circle cx="480.9" cy="243.4" r="1.80"/><circle cx="497.2" cy="243.4" r="1.80"/><circle cx="513.5" cy="243.4" r="1.80"/><circle cx="529.8" cy="243.4" r="1.80"/><circle cx="546.1" cy="243.4" r="1.80"/><circle cx="562.4" cy="243.4" r="1.80"/><circle cx="578.7" cy="243.4" r="1.80"/><circle cx="472.8" cy="251.6" r="1.80"/><circle cx="489.1" cy="251.6" r="1.80"/><circle cx="505.4" cy="251.6" r="1.80"/><circle cx="521.6" cy="251.6" r="1.80"/><circle cx="538.0" cy="251.6" r="1.80"/><circle cx="554.2" cy="251.6" r="1.80"/><circle cx="570.6" cy="251.6" r="1.80"/><circle cx="586.9" cy="251.6" r="1.80"/><circle cx="480.9" cy="259.8" r="1.80"/><circle cx="497.2" cy="259.8" r="1.80"/><circle cx="513.5" cy="259.8" r="1.80"/><circle cx="529.8" cy="259.8" r="1.80"/><circle cx="546.1" cy="259.8" r="1.80"/><circle cx="562.4" cy="259.8" r="1.80"/><circle cx="578.7" cy="259.8" r="1.80"/><circle cx="472.8" cy="267.9" r="1.80"/><circle cx="489.1" cy="267.9" r="1.80"/><circle cx="505.4" cy="267.9" r="1.80"/><circle cx="521.6" cy="267.9" r="1.80"/><circle cx="538.0" cy="267.9" r="1.80"/><circle cx="554.2" cy="267.9" r="1.80"/><circle cx="570.6" cy="267.9" r="1.80"/><circle cx="586.9" cy="267.9" r="1.80"/><circle cx="480.9" cy="276.1" r="1.80"/><circle cx="497.2" cy="276.1" r="1.80"/><circle cx="513.5" cy="276.1" r="1.80"/><circle cx="529.8" cy="276.1" r="1.80"/><circle cx="546.1" cy="276.1" r="1.80"/><circle cx="562.4" cy="276.1" r="1.80"/><circle cx="578.7" cy="276.1" r="1.80"/><circle cx="472.8" cy="284.2" r="1.80"/><circle cx="489.1" cy="284.2" r="1.80"/><circle cx="505.4" cy="284.2" r="1.80"/><circle cx="521.6" cy="284.2" r="1.80"/><circle cx="538.0" cy="284.2" r="1.80"/><circle cx="554.2" cy="284.2" r="1.80"/><circle cx="570.6" cy="284.2" r="1.80"/><circle cx="586.9" cy="284.2" r="1.80"/><circle cx="383.1" cy="292.4" r="1.80"/><circle cx="399.4" cy="292.4" r="1.80"/><circle cx="480.9" cy="292.4" r="1.80"/><circle cx="497.2" cy="292.4" r="1.80"/><circle cx="513.5" cy="292.4" r="1.80"/><circle cx="529.8" cy="292.4" r="1.80"/><circle cx="546.1" cy="292.4" r="1.80"/><circle cx="562.4" cy="292.4" r="1.80"/><circle cx="578.7" cy="292.4" r="1.80"/><circle cx="391.3" cy="300.6" r="1.80"/><circle cx="407.6" cy="300.6" r="1.80"/><circle cx="489.1" cy="300.6" r="1.80"/><circle cx="505.4" cy="300.6" r="1.80"/><circle cx="521.6" cy="300.6" r="1.80"/><circle cx="538.0" cy="300.6" r="1.80"/><circle cx="554.2" cy="300.6" r="1.80"/><circle cx="570.6" cy="300.6" r="1.80"/><circle cx="586.9" cy="300.6" r="1.80"/><circle cx="383.1" cy="308.7" r="1.80"/><circle cx="399.4" cy="308.7" r="1.80"/><circle cx="480.9" cy="308.7" r="1.80"/><circle cx="497.2" cy="308.7" r="1.80"/><circle cx="513.5" cy="308.7" r="1.80"/><circle cx="529.8" cy="308.7" r="1.80"/><circle cx="546.1" cy="308.7" r="1.80"/><circle cx="562.4" cy="308.7" r="1.80"/><circle cx="578.7" cy="308.7" r="1.80"/><circle cx="391.3" cy="316.9" r="1.80"/><circle cx="407.6" cy="316.9" r="1.80"/><circle cx="489.1" cy="316.9" r="1.80"/><circle cx="505.4" cy="316.9" r="1.80"/><circle cx="570.6" cy="316.9" r="1.80"/><circle cx="586.9" cy="316.9" r="1.80"/><circle cx="383.1" cy="325.0" r="1.80"/><circle cx="399.4" cy="325.0" r="1.80"/><circle cx="480.9" cy="325.0" r="1.80"/><circle cx="497.2" cy="325.0" r="1.80"/><circle cx="562.4" cy="325.0" r="1.80"/><circle cx="578.7" cy="325.0" r="1.80"/><circle cx="391.3" cy="333.2" r="1.80"/><circle cx="407.6" cy="333.2" r="1.80"/><circle cx="489.1" cy="333.2" r="1.80"/><circle cx="505.4" cy="333.2" r="1.80"/><circle cx="570.6" cy="333.2" r="1.80"/><circle cx="586.9" cy="333.2" r="1.80"/><circle cx="383.1" cy="341.4" r="1.80"/><circle cx="399.4" cy="341.4" r="1.80"/><circle cx="415.7" cy="341.4" r="1.80"/><circle cx="480.9" cy="341.4" r="1.80"/><circle cx="497.2" cy="341.4" r="1.80"/><circle cx="562.4" cy="341.4" r="1.80"/><circle cx="578.7" cy="341.4" r="1.80"/><circle cx="391.3" cy="349.5" r="1.80"/><circle cx="407.6" cy="349.5" r="1.80"/><circle cx="423.9" cy="349.5" r="1.80"/><circle cx="440.2" cy="349.5" r="1.80"/><circle cx="570.6" cy="349.5" r="1.80"/><circle cx="586.9" cy="349.5" r="1.80"/><circle cx="399.4" cy="357.7" r="1.80"/><circle cx="415.7" cy="357.7" r="1.80"/><circle cx="562.4" cy="357.7" r="1.80"/><circle cx="578.7" cy="357.7" r="1.80"/><circle cx="407.6" cy="365.8" r="1.80"/><circle cx="570.6" cy="365.8" r="1.80"/><circle cx="586.9" cy="365.8" r="1.80"/><circle cx="399.4" cy="374.0" r="1.80"/><circle cx="415.7" cy="374.0" r="1.80"/><circle cx="578.7" cy="374.0" r="1.80"/><circle cx="407.6" cy="382.2" r="1.80"/><circle cx="570.6" cy="382.2" r="1.80"/><circle cx="586.9" cy="382.2" r="1.80"/><circle cx="399.4" cy="390.3" r="1.80"/><circle cx="415.7" cy="390.3" r="1.80"/><circle cx="578.7" cy="390.3" r="1.80"/><circle cx="407.6" cy="398.5" r="1.80"/><circle cx="399.4" cy="406.6" r="1.80"/><circle cx="407.6" cy="414.8" r="1.80"/><circle cx="399.4" cy="423.0" r="1.80"/><circle cx="407.6" cy="431.1" r="1.80"/><circle cx="407.6" cy="447.4" r="1.80"/><circle cx="317.9" cy="455.6" r="1.80"/><circle cx="415.7" cy="455.6" r="1.80"/><circle cx="309.8" cy="463.8" r="1.80"/><circle cx="326.1" cy="463.8" r="1.80"/><circle cx="342.4" cy="463.8" r="1.80"/><circle cx="407.6" cy="463.8" r="1.80"/><circle cx="472.8" cy="463.8" r="1.80"/><circle cx="317.9" cy="471.9" r="1.80"/><circle cx="334.2" cy="471.9" r="1.80"/><circle cx="415.7" cy="471.9" r="1.80"/><circle cx="464.6" cy="471.9" r="1.80"/><circle cx="480.9" cy="471.9" r="1.80"/><circle cx="309.8" cy="480.1" r="1.80"/><circle cx="326.1" cy="480.1" r="1.80"/><circle cx="342.4" cy="480.1" r="1.80"/><circle cx="407.6" cy="480.1" r="1.80"/><circle cx="440.2" cy="480.1" r="1.80"/><circle cx="456.5" cy="480.1" r="1.80"/><circle cx="472.8" cy="480.1" r="1.80"/><circle cx="489.1" cy="480.1" r="1.80"/><circle cx="301.6" cy="488.2" r="1.80"/><circle cx="317.9" cy="488.2" r="1.80"/><circle cx="334.2" cy="488.2" r="1.80"/><circle cx="415.7" cy="488.2" r="1.80"/><circle cx="448.3" cy="488.2" r="1.80"/><circle cx="464.6" cy="488.2" r="1.80"/><circle cx="480.9" cy="488.2" r="1.80"/></g>
</g>
<rect x="0" y="0" width="826" height="495.5" fill="none" stroke="#000" stroke-width="3.6"/>
<g stroke="#000" stroke-linecap="round"><line x1="45.9" y1="0" x2="45.9" y2="-8" stroke-width="2"/><line x1="45.9" y1="495.5" x2="45.9" y2="503.5" stroke-width="2"/><line x1="91.8" y1="0" x2="91.8" y2="-8" stroke-width="2"/><line x1="91.8" y1="495.5" x2="91.8" y2="503.5" stroke-width="2"/><line x1="137.7" y1="0" x2="137.7" y2="-17" stroke-width="3.6"/><line x1="137.7" y1="495.5" x2="137.7" y2="512.5" stroke-width="3.6"/><line x1="183.6" y1="0" x2="183.6" y2="-8" stroke-width="2"/><line x1="183.6" y1="495.5" x2="183.6" y2="503.5" stroke-width="2"/><line x1="229.4" y1="0" x2="229.4" y2="-8" stroke-width="2"/><line x1="229.4" y1="495.5" x2="229.4" y2="503.5" stroke-width="2"/><line x1="275.3" y1="0" x2="275.3" y2="-17" stroke-width="3.6"/><line x1="275.3" y1="495.5" x2="275.3" y2="512.5" stroke-width="3.6"/><line x1="321.2" y1="0" x2="321.2" y2="-8" stroke-width="2"/><line x1="321.2" y1="495.5" x2="321.2" y2="503.5" stroke-width="2"/><line x1="367.1" y1="0" x2="367.1" y2="-8" stroke-width="2"/><line x1="367.1" y1="495.5" x2="367.1" y2="503.5" stroke-width="2"/><line x1="413" y1="0" x2="413" y2="-17" stroke-width="3.6"/><line x1="413" y1="495.5" x2="413" y2="512.5" stroke-width="3.6"/><line x1="458.9" y1="0" x2="458.9" y2="-8" stroke-width="2"/><line x1="458.9" y1="495.5" x2="458.9" y2="503.5" stroke-width="2"/><line x1="504.8" y1="0" x2="504.8" y2="-8" stroke-width="2"/><line x1="504.8" y1="495.5" x2="504.8" y2="503.5" stroke-width="2"/><line x1="550.7" y1="0" x2="550.7" y2="-17" stroke-width="3.6"/><line x1="550.7" y1="495.5" x2="550.7" y2="512.5" stroke-width="3.6"/><line x1="596.6" y1="0" x2="596.6" y2="-8" stroke-width="2"/><line x1="596.6" y1="495.5" x2="596.6" y2="503.5" stroke-width="2"/><line x1="642.4" y1="0" x2="642.4" y2="-8" stroke-width="2"/><line x1="642.4" y1="495.5" x2="642.4" y2="503.5" stroke-width="2"/><line x1="688.3" y1="0" x2="688.3" y2="-17" stroke-width="3.6"/><line x1="688.3" y1="495.5" x2="688.3" y2="512.5" stroke-width="3.6"/><line x1="734.2" y1="0" x2="734.2" y2="-8" stroke-width="2"/><line x1="734.2" y1="495.5" x2="734.2" y2="503.5" stroke-width="2"/><line x1="780.1" y1="0" x2="780.1" y2="-8" stroke-width="2"/><line x1="780.1" y1="495.5" x2="780.1" y2="503.5" stroke-width="2"/><line x1="0" y1="24.8" x2="-8" y2="24.8" stroke-width="2"/><line x1="826" y1="24.8" x2="834" y2="24.8" stroke-width="2"/><line x1="0" y1="49.6" x2="-8" y2="49.6" stroke-width="2"/><line x1="826" y1="49.6" x2="834" y2="49.6" stroke-width="2"/><line x1="0" y1="74.3" x2="-8" y2="74.3" stroke-width="2"/><line x1="826" y1="74.3" x2="834" y2="74.3" stroke-width="2"/><line x1="0" y1="99.1" x2="-17" y2="99.1" stroke-width="3.6"/><line x1="826" y1="99.1" x2="843" y2="99.1" stroke-width="3.6"/><line x1="0" y1="123.9" x2="-8" y2="123.9" stroke-width="2"/><line x1="826" y1="123.9" x2="834" y2="123.9" stroke-width="2"/><line x1="0" y1="148.7" x2="-8" y2="148.7" stroke-width="2"/><line x1="826" y1="148.7" x2="834" y2="148.7" stroke-width="2"/><line x1="0" y1="173.4" x2="-8" y2="173.4" stroke-width="2"/><line x1="826" y1="173.4" x2="834" y2="173.4" stroke-width="2"/><line x1="0" y1="198.2" x2="-17" y2="198.2" stroke-width="3.6"/><line x1="826" y1="198.2" x2="843" y2="198.2" stroke-width="3.6"/><line x1="0" y1="223" x2="-8" y2="223" stroke-width="2"/><line x1="826" y1="223" x2="834" y2="223" stroke-width="2"/><line x1="0" y1="247.8" x2="-8" y2="247.8" stroke-width="2"/><line x1="826" y1="247.8" x2="834" y2="247.8" stroke-width="2"/><line x1="0" y1="272.5" x2="-8" y2="272.5" stroke-width="2"/><line x1="826" y1="272.5" x2="834" y2="272.5" stroke-width="2"/><line x1="0" y1="297.3" x2="-17" y2="297.3" stroke-width="3.6"/><line x1="826" y1="297.3" x2="843" y2="297.3" stroke-width="3.6"/><line x1="0" y1="322.1" x2="-8" y2="322.1" stroke-width="2"/><line x1="826" y1="322.1" x2="834" y2="322.1" stroke-width="2"/><line x1="0" y1="346.8" x2="-8" y2="346.8" stroke-width="2"/><line x1="826" y1="346.8" x2="834" y2="346.8" stroke-width="2"/><line x1="0" y1="371.6" x2="-8" y2="371.6" stroke-width="2"/><line x1="826" y1="371.6" x2="834" y2="371.6" stroke-width="2"/><line x1="0" y1="396.4" x2="-17" y2="396.4" stroke-width="3.6"/><line x1="826" y1="396.4" x2="843" y2="396.4" stroke-width="3.6"/><line x1="0" y1="421.2" x2="-8" y2="421.2" stroke-width="2"/><line x1="826" y1="421.2" x2="834" y2="421.2" stroke-width="2"/><line x1="0" y1="445.9" x2="-8" y2="445.9" stroke-width="2"/><line x1="826" y1="445.9" x2="834" y2="445.9" stroke-width="2"/><line x1="0" y1="470.7" x2="-8" y2="470.7" stroke-width="2"/><line x1="826" y1="470.7" x2="834" y2="470.7" stroke-width="2"/><line x1="0" y1="495.5" x2="-17" y2="495.5" stroke-width="3.6"/><line x1="826" y1="495.5" x2="843" y2="495.5" stroke-width="3.6"/></g>
<g font-family="Liberation Sans, sans-serif" font-size="31" fill="#000"><text x="-38" y="110.1" text-anchor="end">200</text><text x="-38" y="209.2" text-anchor="end">400</text><text x="-38" y="308.3" text-anchor="end">600</text><text x="-38" y="407.4" text-anchor="end">800</text><text x="-38" y="506.5" text-anchor="end">1000</text><text x="134.2" y="558" text-anchor="middle">60°S</text><text x="271.8" y="558" text-anchor="middle">30°S</text><text x="411" y="558" text-anchor="middle">0</text><text x="547.2" y="558" text-anchor="middle">30°N</text><text x="684.8" y="558" text-anchor="middle">60°N</text></g>
<text font-family="Liberation Sans, sans-serif" font-size="38" transform="translate(-134,248.8) rotate(-90)" text-anchor="middle">pressure [hPa]</text>
<text font-family="Liberation Sans, sans-serif" font-size="41.5" transform="translate(-2.5,-27.5) scale(0.94,1)">(c)</text><text font-family="Liberation Sans, sans-serif" font-size="42.8" text-anchor="end" transform="translate(793.5,-32.8) scale(0.96,1)">HR</text><text font-family="Liberation Sans, sans-serif" font-size="26.3" transform="translate(792.47,-24.3) scale(0.97,1)">tke</text>
</g>
<g transform="translate(1203,767)">
<clipPath id="clipd"><rect x="0" y="0" width="826" height="495.5"/></clipPath>
<g clip-path="url(#clipd)">
<rect x="0" y="0" width="826" height="495.5" fill="#e1f1ef"/>
<path d="M-5,30C-5,30 -0.2,30.2 4,30C8.2,29.8 14,28.5 20,29C26,29.5 34,31.2 40,33C46,34.8 51.7,36.8 56,40C60.3,43.2 63,47.7 66,52C69,56.3 71.7,60.7 74,66C76.3,71.3 78,76.7 80,84C82,91.3 84.3,100.7 86,110C87.7,119.3 89,128.3 90,140C91,151.7 91.3,166.7 92,180C92.7,193.3 93.7,208.7 94,220C94.3,231.3 93.7,233.3 94,248C94.3,262.7 95.3,288 96,308C96.7,328 98,348 98,368C98,388 96.7,406 96,428C95.3,450 94,500 94,500C94,500 -5,500 -5,500C-5,500 -5,30 -5,30Z" fill="#f7e3a5"/>
<path d="M184,24C187.3,20.7 192.3,21 200,20C207.7,19 220,18.7 230,18C240,17.3 253.3,16 260,16C266.7,16 266.7,15.7 270,18C273.3,20.3 276,26.3 280,30C284,33.7 290.7,36.7 294,40C297.3,43.3 299,45 300,50C301,55 300.7,65 300,70C299.3,75 297.7,76.7 296,80C294.3,83.3 291.3,85 290,90C288.7,95 288.3,101.7 288,110C287.7,118.3 287.3,128.3 288,140C288.7,151.7 291,166.7 292,180C293,193.3 293.5,208.7 294,220C294.5,231.3 295.7,233.3 295,248C294.3,262.7 291.2,284.7 290,308C288.8,331.3 289.7,366.3 288,388C286.3,409.7 282.3,424.7 280,438C277.7,451.3 275.7,457.7 274,468C272.3,478.3 270,500 270,500C270,500 182,500 182,500C182,500 184.3,463.3 186,448C187.7,432.7 190.8,424.7 192,408C193.2,391.3 193.3,374.7 193,348C192.7,321.3 190.5,269.3 190,248C189.5,226.7 190.7,231.3 190,220C189.3,208.7 187.7,193.3 186,180C184.3,166.7 181.7,153.3 180,140C178.3,126.7 176.3,111.7 176,100C175.7,88.3 177.3,80 178,70C178.7,60 179,47.7 180,40C181,32.3 180.7,27.3 184,24Z" fill="#f7e3a5"/>
<path d="M374,50C369.8,54 372.3,63.3 370,70C367.7,76.7 362.7,84.3 360,90C357.3,95.7 356.3,100.3 354,104C351.7,107.7 348.3,107.7 346,112C343.7,116.3 341.3,122 340,130C338.7,138 338,148.3 338,160C338,171.7 339.3,185.3 340,200C340.7,214.7 339.5,240 342,248C344.5,256 352.7,240.3 355,248C357.3,255.7 357.2,283.3 356,294C354.8,304.7 350.7,303 348,312C345.3,321 343,335.3 340,348C337,360.7 333,376 330,388C327,400 322,411.7 322,420C322,428.3 326.3,432.3 330,438C333.7,443.7 340.3,451 344,454C347.7,457 346.7,457.7 352,456C357.3,454.3 369.3,448.7 376,444C382.7,439.3 387.7,434 392,428C396.3,422 398.5,414 402,408C405.5,402 410.2,395.7 413,392C415.8,388.3 417,385.7 419,386C421,386.3 422.7,387.7 425,394C427.3,400.3 430.7,415 433,424C435.3,433 437.8,442 439,448C440.2,454 441,455.3 440,460C439,464.7 435.2,469.3 433,476C430.8,482.7 427,500 427,500C427,500 493,500 493,500C493,500 493.8,467 495,454C496.2,441 500,431.3 500,422C500,412.7 496.8,407 495,398C493.2,389 491,378.7 489,368C487,357.3 485.7,343.3 483,334C480.3,324.7 476,318.7 473,312C470,305.3 466.8,304.7 465,294C463.2,283.3 462.3,263.7 462,248C461.7,232.3 463.2,214.7 463,200C462.8,185.3 462,173.3 461,160C460,146.7 458,133.3 457,120C456,106.7 455.7,92 455,80C454.3,68 450.5,54.7 453,48C455.5,41.3 463.3,41.7 470,40C476.7,38.3 484.7,39.7 493,38C501.3,36.3 511.7,32.3 520,30C528.3,27.7 542.7,21 543,24C543.3,27 525,42 522,48C519,54 523.5,54.7 525,60C526.5,65.3 528.7,72.7 531,80C533.3,87.3 537.8,95.7 539,104C540.2,112.3 538.5,120.7 538,130C537.5,139.3 535.8,148.3 536,160C536.2,171.7 537.5,185.3 539,200C540.5,214.7 543.5,239 545,248C546.5,257 547,254 548,254C549,254 550.2,253.7 551,248C551.8,242.3 551.3,229.7 553,220C554.7,210.3 557.7,200 561,190C564.3,180 569.3,167.7 573,160C576.7,152.3 580.3,147.2 583,144C585.7,140.8 586,139.7 589,141C592,142.3 598,147.2 601,152C604,156.8 605,162 607,170C609,178 611.7,187 613,200C614.3,213 615.3,233.3 615,248C614.7,262.7 612.7,274.7 611,288C609.3,301.3 606.7,318 605,328C603.3,338 601.8,341.3 601,348C600.2,354.7 600.8,359.7 600,368C599.2,376.3 597.2,389.3 596,398C594.8,406.7 594.8,413.7 593,420C591.2,426.3 587.3,434.3 585,436C582.7,437.7 581,427 579,430C577,433 574.3,442.3 573,454C571.7,465.7 571,500 571,500C571,500 671,500 671,500C671,500 668.2,473.3 668,448C667.8,422.7 669.5,381.3 670,348C670.5,314.7 670.8,272.7 671,248C671.2,223.3 670.7,214.7 671,200C671.3,185.3 672,172.7 673,160C674,147.3 675.3,132 677,124C678.7,116 680,116.7 683,112C686,107.3 693,104.7 695,96C697,87.3 695.3,69.3 695,60C694.7,50.7 695.3,46 693,40C690.7,34 687.7,29.3 681,24C674.3,18.7 659.8,12.8 653,8C646.2,3.2 640,-5 640,-5C640,-5 485,-5 485,-5C485,-5 485.5,7.2 483,14C480.5,20.8 477.2,31.7 470,36C462.8,40.3 449.5,38.7 440,40C430.5,41.3 420.5,43 413,44C405.5,45 401.5,45 395,46C388.5,47 378.2,46 374,50Z" fill="#f7e3a5"/>
<path d="M344,500C344,500 346.3,477.3 348,472C349.7,466.7 351,467.3 354,468C357,468.7 363,470.7 366,476C369,481.3 372,500 372,500C372,500 344,500 344,500Z" fill="#f7e3a5"/>
<path d="M728,500C728,500 731.2,442.7 733,434C734.8,425.3 737.7,440 739,448C740.3,456 740.3,479.3 741,482C741.7,484.7 741.5,469 743,464C744.5,459 748.3,451.3 750,452C751.7,452.7 752.2,460 753,468C753.8,476 755,500 755,500C755,500 728,500 728,500Z" fill="#f7e3a5"/>
<path d="M784,500C784,500 787.2,452 789,452C790.8,452 795,500 795,500C795,500 784,500 784,500Z" fill="#f7e3a5"/>
<path d="M272,8C273.7,7.2 283.3,6.7 290,5C296.7,3.3 312,-2 312,-2C312,-2 305.3,6 300,8C294.7,10 284.7,10 280,10C275.3,10 270.3,8.8 272,8Z" fill="#f7e3a5"/>
<path d="M30,500C30,500 32.7,448.7 34,440C35.3,431.3 36.2,455.7 38,448C39.8,440.3 43,399 45,394C47,389 49,400.3 50,418C51,435.7 51,500 51,500C51,500 30,500 30,500Z" fill="#e1f1ef"/>
<path d="M83,500C83,500 81.2,441 82,434C82.8,427 87.3,447 88,458C88.7,469 86,500 86,500C86,500 83,500 83,500Z" fill="#e1f1ef"/>
<path d="M56,113.6C60,113.3 63,114.3 66,118C69,121.7 72.2,129 74,136C75.8,143 76.5,149.3 77,160C77.5,170.7 77.2,185.3 77,200C76.8,214.7 75.7,233.3 76,248C76.3,262.7 78.3,279.3 79,288C79.7,296.7 81.2,295.7 80,300C78.8,304.3 74.2,314.3 72,314C69.8,313.7 68.3,304 67,298C65.7,292 65.8,286 64,278C62.2,270 58.7,258 56,250C53.3,242 50.7,238.3 48,230C45.3,221.7 42,211.7 40,200C38,188.3 36.5,170.7 36,160C35.5,149.3 36,142.7 37,136C38,129.3 38.8,123.7 42,120C45.2,116.3 52,113.9 56,113.6Z" fill="#fbc174" stroke="#000" stroke-width="1.6" stroke-linejoin="round"/>
<path d="M10,334C10.7,319.7 12.3,312 14,310C15.7,308 18.2,318.3 20,322C21.8,325.7 24.2,322 25,332C25.8,342 25.5,376 25,382C24.5,388 23.2,372.3 22,368C20.8,363.7 19.3,348 18,356C16.7,364 15.3,409.3 14,416C12.7,422.7 10.7,409.7 10,396C9.3,382.3 9.3,348.3 10,334Z" fill="#fbc174" stroke="#000" stroke-width="1.6" stroke-linejoin="round"/>
<path d="M240,29C248.3,29.2 254.3,32.2 260,36C265.7,39.8 270.7,46 274,52C277.3,58 279.7,65.7 280,72C280.3,78.3 277.3,82 276,90C274.7,98 273,108.3 272,120C271,131.7 270.7,146.7 270,160C269.3,173.3 269,185.3 268,200C267,214.7 266.7,225 264,248C261.3,271 255.7,317.3 252,338C248.3,358.7 245,364.3 242,372C239,379.7 236.3,382.7 234,384C231.7,385.3 230.3,384.3 228,380C225.7,375.7 222.7,370 220,358C217.3,346 214.7,326.3 212,308C209.3,289.7 206,267.7 204,248C202,228.3 201.7,206.3 200,190C198.3,173.7 196,161.7 194,150C192,138.3 189.3,128.7 188,120C186.7,111.3 186,105.3 186,98C186,90.7 186.3,83.7 188,76C189.7,68.3 192.3,58.8 196,52C199.7,45.2 202.7,38.8 210,35C217.3,31.2 231.7,28.8 240,29Z" fill="#fbc174" stroke="#000" stroke-width="1.6" stroke-linejoin="round"/>
<path d="M222,457C221.8,456 226.7,455 229,455C231.3,455 235.8,456 236,457C236.2,458 232.3,461 230,461C227.7,461 222.2,458 222,457Z" fill="#fbc174" stroke="#000" stroke-width="1.6" stroke-linejoin="round"/>
<path d="M391,48C395.3,43 411.3,46 420,46C428.7,46 439.8,42.3 443,48C446.2,53.7 439.8,68 439,80C438.2,92 437.3,106.7 438,120C438.7,133.3 441.2,146.7 443,160C444.8,173.3 448.7,188.3 449,200C449.3,211.7 446.5,222 445,230C443.5,238 442.3,240.7 440,248C437.7,255.3 434.2,267.3 431,274C427.8,280.7 424,285.3 421,288C418,290.7 416.8,291.7 413,290C409.2,288.3 402.5,285 398,278C393.5,271 388.7,256 386,248C383.3,240 384,238 382,230C380,222 375.7,210 374,200C372.3,190 371.7,179.3 372,170C372.3,160.7 373.7,151.7 376,144C378.3,136.3 382.3,132 386,124C389.7,116 396.7,104 398,96C399.3,88 395.2,84 394,76C392.8,68 386.7,53 391,48Z" fill="#fbc174" stroke="#000" stroke-width="1.6" stroke-linejoin="round"/>
<path d="M479,-5C479,-5 600,-5 600,-5C600,-5 609.2,3.2 613,6C616.8,8.8 619.7,10.3 623,12C626.3,13.7 628,13.7 633,16C638,18.3 648,22 653,26C658,30 660.5,34.3 663,40C665.5,45.7 667.3,53.3 668,60C668.7,66.7 667.8,73.3 667,80C666.2,86.7 665.3,94.8 663,100C660.7,105.2 656.3,108.7 653,111C649.7,113.3 646.3,114.2 643,114C639.7,113.8 636.7,112.3 633,110C629.3,107.7 625.7,104 621,100C616.3,96 609.7,90.3 605,86C600.3,81.7 596.3,78.3 593,74C589.7,69.7 587.3,65 585,60C582.7,55 580.3,48.7 579,44C577.7,39.3 576.3,36 577,32C577.7,28 581,23 583,20C585,17 596.2,15.2 589,14C581.8,12.8 556,13.3 540,13C524,12.7 503.2,12.3 493,12C482.8,11.7 479,11 479,11C479,11 479,-5 479,-5Z" fill="#fbc174" stroke="#000" stroke-width="1.6" stroke-linejoin="round"/>
<path d="M291,3C296.8,1.7 317.2,1.2 330,1C342.8,0.8 363,0.7 368,2C373,3.3 368,7.7 360,9C352,10.3 330.8,10 320,10C309.2,10 299.8,10.2 295,9C290.2,7.8 285.2,4.3 291,3Z" fill="#fbc174" stroke="#000" stroke-width="1.6" stroke-linejoin="round"/>
<path d="M234,54C239.3,53.3 242.3,54.7 246,56C249.7,57.3 253.3,59.3 256,62C258.7,64.7 261.3,65.7 262,72C262.7,78.3 261,89.3 260,100C259,110.7 258,124.3 256,136C254,147.7 250.7,159.3 248,170C245.3,180.7 243,190.3 240,200C237,209.7 233.7,229.7 230,228C226.3,226.3 221.7,203 218,190C214.3,177 211,161.7 208,150C205,138.3 201.8,128.5 200,120C198.2,111.5 196.3,106.3 197,99C197.7,91.7 201.2,82.5 204,76C206.8,69.5 209,63.7 214,60C219,56.3 228.7,54.7 234,54Z" fill="#fb9155" stroke="#000" stroke-width="1.6" stroke-linejoin="round"/>
<path d="M406,49C409,46.8 428,47.2 431,49C434,50.8 425.7,57.5 424,60C422.3,62.5 422.8,63.7 421,64C419.2,64.3 415.5,64.5 413,62C410.5,59.5 403,51.2 406,49Z" fill="#fb9155" stroke="#000" stroke-width="1.6" stroke-linejoin="round"/>
<path d="M413,140C415.8,137 418.3,136.3 421,138C423.7,139.7 426.7,143 429,150C431.3,157 434,171.7 435,180C436,188.3 436,193.3 435,200C434,206.7 431.7,215.3 429,220C426.3,224.7 421.7,226.7 419,228C416.3,229.3 415.8,230 413,228C410.2,226 404.8,221 402,216C399.2,211 396.7,204 396,198C395.3,192 396.7,187 398,180C399.3,173 401.5,162.7 404,156C406.5,149.3 410.2,143 413,140Z" fill="#fb9155" stroke="#000" stroke-width="1.6" stroke-linejoin="round"/>
<path d="M493,2C493,2 553,2 553,2C553,2 547.2,6 540,7C532.8,8 517.8,8.8 510,8C502.2,7.2 493,2 493,2Z" fill="#fb9155" stroke="#000" stroke-width="1.6" stroke-linejoin="round"/>
<path d="M232,85C235.3,84.3 237.7,85.7 240,88C242.3,90.3 246.3,93.7 246,99C245.7,104.3 240.7,115.5 238,120C235.3,124.5 233,126.7 230,126C227,125.3 222.7,120.5 220,116C217.3,111.5 214,103 214,99C214,95 217,94.3 220,92C223,89.7 228.7,85.7 232,85Z" fill="#ec5b3c" stroke="#000" stroke-width="1.6" stroke-linejoin="round"/>
<path d="M92,15C94.2,11.2 99.3,13.7 104,13C108.7,12.3 114.7,11.8 120,11C125.3,10.2 131.3,9.2 136,8C140.7,6.8 145.3,6.2 148,4C150.7,1.8 152,-5 152,-5C152,-5 272,-5 272,-5C272,-5 275.3,1.7 270,4C264.7,6.3 251.7,7.3 240,9C228.3,10.7 210.7,12.5 200,14C189.3,15.5 182,16.7 176,18C170,19.3 166.7,20.3 164,22C161.3,23.7 160.3,23.3 160,28C159.7,32.7 161.2,43 162,50C162.8,57 164.3,63.3 165,70C165.7,76.7 165.2,78.3 166,90C166.8,101.7 168.7,125 170,140C171.3,155 173,162 174,180C175,198 175.7,220 176,248C176.3,276 176.7,321.3 176,348C175.3,374.7 174.7,389.7 172,408C169.3,426.3 164.7,445.3 160,458C155.3,470.7 148.7,477 144,484C139.3,491 132,500 132,500C132,500 112,500 112,500C112,500 110.8,453.3 110,428C109.2,402.7 107.8,378 107,348C106.2,318 105.5,272.7 105,248C104.5,223.3 104.5,218 104,200C103.5,182 103,158.3 102,140C101,121.7 99.3,104 98,90C96.7,76 95.2,65 94,56C92.8,47 91.3,42.8 91,36C90.7,29.2 89.8,18.8 92,15Z" fill="#b9e0ee" stroke="#000" stroke-width="1.6" stroke-linejoin="round"/>
<path d="M132,49C135.7,49 141.3,55.8 144,60C146.7,64.2 147.2,67.3 148,74C148.8,80.7 148,92.3 149,100C150,107.7 152.2,111.7 154,120C155.8,128.3 158.7,136.7 160,150C161.3,163.3 161.7,183.7 162,200C162.3,216.3 162.7,226.7 162,248C161.3,269.3 160.3,306.3 158,328C155.7,349.7 151.3,365.3 148,378C144.7,390.7 140.7,400 138,404C135.3,408 133.7,408 132,402C130.3,396 129.7,383.7 128,368C126.3,352.3 123.7,328 122,308C120.3,288 118.8,269.3 118,248C117.2,226.7 117.3,199.7 117,180C116.7,160.3 115.8,145 116,130C116.2,115 117,101.7 118,90C119,78.3 119.7,66.8 122,60C124.3,53.2 128.3,49 132,49Z" fill="#8bbddb" stroke="#000" stroke-width="1.6" stroke-linejoin="round"/>
<path d="M176,-2C176,-2 189.3,4.7 200,6C210.7,7.3 229.7,7.3 240,6C250.3,4.7 262,-2 262,-2C262,-2 176,-2 176,-2Z" fill="#8bbddb" stroke="#000" stroke-width="1.6" stroke-linejoin="round"/>
<path d="M14,-3C14,-3 24,5.5 30,8C36,10.5 43.3,11.3 50,12C56.7,12.7 65,13.2 70,12C75,10.8 77.3,7.5 80,5C82.7,2.5 86,-3 86,-3C86,-3 14,-3 14,-3Z" fill="#b9e0ee" stroke="#000" stroke-width="1.6" stroke-linejoin="round"/>
<path d="M292.8,23.5C294.1,21.1 304.7,16.5 311.9,14.8C319.1,13.1 329.2,12.7 335.9,13.2C342.5,13.7 346.5,15.9 351.8,18C357.1,20.1 359.8,23.9 367.8,25.9C375.8,27.9 383.7,29.1 399.7,29.9C415.7,30.7 448.4,30.3 463.6,30.7C478.8,31.1 488,31 490.7,32.3C493.4,33.6 485.5,37.4 479.6,38.7C473.8,40 466.2,40 455.6,40.3C445,40.6 427.7,40 415.7,40.3C403.7,40.6 391.7,41.1 383.7,41.9C375.7,42.7 373.9,43.9 367.8,45.1C361.7,46.3 352.3,48.8 347,49.1C341.7,49.4 340.4,48.4 335.9,46.7C331.4,45 325.2,41.6 319.9,38.7C314.6,35.8 308.4,31.6 303.9,29.1C299.4,26.6 291.5,25.9 292.8,23.5Z" fill="#b9e0ee" stroke="#000" stroke-width="1.6" stroke-linejoin="round"/>
<path d="M313.5,23.5C314.8,22.7 322.8,21.1 327.9,21.1C332.9,21.1 338.5,22.2 343.8,23.5C349.1,24.8 353.2,27.6 359.8,29.1C366.4,30.6 371.7,31.6 383.7,32.3C395.7,33 419.6,32.8 431.6,33.1C443.6,33.4 458.2,33.4 455.6,33.9C453,34.4 427.7,35.8 415.7,36.3C403.7,36.8 393,37.4 383.7,37.1C374.4,36.8 367.8,36 359.8,34.7C351.8,33.4 342.5,30.6 335.9,29.1C329.2,27.6 323.6,26.8 319.9,25.9C316.2,25 312.2,24.3 313.5,23.5Z" fill="#8bbddb" stroke="#000" stroke-width="1.6" stroke-linejoin="round"/>
<path d="M475,72C476.5,69.7 478.3,70 481,70C483.7,70 486.7,69 491,72C495.3,75 502.8,83.7 507,88C511.2,92.3 514.8,92.7 516,98C517.2,103.3 516.2,113 514,120C511.8,127 506.8,134.3 503,140C499.2,145.7 494.3,153.3 491,154C487.7,154.7 486,149 483,144C480,139 475,131.3 473,124C471,116.7 471.2,106.7 471,100C470.8,93.3 471.3,88.7 472,84C472.7,79.3 473.5,74.3 475,72Z" fill="#b9e0ee" stroke="#000" stroke-width="1.6" stroke-linejoin="round"/>
<path d="M650,-5C650,-5 679.2,3.8 693,8C706.8,12.2 723,18 733,20C743,22 744.7,20.7 753,20C761.3,19.3 775.3,18 783,16C790.7,14 795.2,11.5 799,8C802.8,4.5 806,-5 806,-5C806,-5 650,-5 650,-5Z" fill="#b9e0ee" stroke="#000" stroke-width="1.6" stroke-linejoin="round"/>
<path d="M690,-2C690,-2 719.2,4.8 733,6C746.8,7.2 762.5,6.3 773,5C783.5,3.7 796,-2 796,-2C796,-2 690,-2 690,-2Z" fill="#8bbddb" stroke="#000" stroke-width="1.6" stroke-linejoin="round"/><path d="M291.0,-4 L551.0,-4 L551.0,2 C531.0,3 511.0,3.5 491.0,3.5 L351.0,3.5 C331.0,3.5 311.0,3 291.0,2Z" fill="#000"/>
<path d="M326.0,-4 L491.0,-4 L483.0,12.0 L334.0,12.0 Z" fill="#000"/>
<path d="M358.0,11.0 C370.0,20.0 382.0,30.0 417.0,29.0 C452.0,30.0 464.0,20.0 476.0,11.0 Z" fill="#2e0805" stroke="#000" stroke-width="1.4"/>
<path d="M360.2,12.0 C372.2,19.0 382.0,27.8 417.0,26.8 C452.0,27.8 461.8,19.0 473.8,12.0" fill="none" stroke="#d06030" stroke-width="0.8" opacity="0.8"/>
<path d="M362.2,12.0 C374.2,19.0 382.0,25.8 417.0,24.8 C452.0,25.8 459.8,19.0 471.8,12.0" fill="none" stroke="#f0a060" stroke-width="0.8" opacity="0.8"/>
<path d="M358,34 C393,31 433,31 470,34 C443,38 393,38 358,34Z" fill="#6195c8" stroke="#000" stroke-width="1.2"/><g fill="#000"><circle cx="613.3" cy="15.0" r="1.80"/><circle cx="629.6" cy="15.0" r="1.80"/><circle cx="588.9" cy="23.1" r="1.80"/><circle cx="605.2" cy="23.1" r="1.80"/><circle cx="621.5" cy="23.1" r="1.80"/><circle cx="515.5" cy="31.3" r="1.80"/><circle cx="531.8" cy="31.3" r="1.80"/><circle cx="548.1" cy="31.3" r="1.80"/><circle cx="564.4" cy="31.3" r="1.80"/><circle cx="580.7" cy="31.3" r="1.80"/><circle cx="597.0" cy="31.3" r="1.80"/><circle cx="613.3" cy="31.3" r="1.80"/><circle cx="491.1" cy="39.4" r="1.80"/><circle cx="507.4" cy="39.4" r="1.80"/><circle cx="523.6" cy="39.4" r="1.80"/><circle cx="540.0" cy="39.4" r="1.80"/><circle cx="556.2" cy="39.4" r="1.80"/><circle cx="572.6" cy="39.4" r="1.80"/><circle cx="588.9" cy="39.4" r="1.80"/><circle cx="605.2" cy="39.4" r="1.80"/><circle cx="466.6" cy="47.6" r="1.80"/><circle cx="482.9" cy="47.6" r="1.80"/><circle cx="499.2" cy="47.6" r="1.80"/><circle cx="515.5" cy="47.6" r="1.80"/><circle cx="531.8" cy="47.6" r="1.80"/><circle cx="548.1" cy="47.6" r="1.80"/><circle cx="564.4" cy="47.6" r="1.80"/><circle cx="580.7" cy="47.6" r="1.80"/><circle cx="597.0" cy="47.6" r="1.80"/><circle cx="474.8" cy="55.8" r="1.80"/><circle cx="491.1" cy="55.8" r="1.80"/><circle cx="507.4" cy="55.8" r="1.80"/><circle cx="523.6" cy="55.8" r="1.80"/><circle cx="540.0" cy="55.8" r="1.80"/><circle cx="556.2" cy="55.8" r="1.80"/><circle cx="572.6" cy="55.8" r="1.80"/><circle cx="588.9" cy="55.8" r="1.80"/><circle cx="605.2" cy="55.8" r="1.80"/><circle cx="466.6" cy="63.9" r="1.80"/><circle cx="482.9" cy="63.9" r="1.80"/><circle cx="499.2" cy="63.9" r="1.80"/><circle cx="515.5" cy="63.9" r="1.80"/><circle cx="531.8" cy="63.9" r="1.80"/><circle cx="548.1" cy="63.9" r="1.80"/><circle cx="564.4" cy="63.9" r="1.80"/><circle cx="580.7" cy="63.9" r="1.80"/><circle cx="597.0" cy="63.9" r="1.80"/><circle cx="474.8" cy="72.1" r="1.80"/><circle cx="491.1" cy="72.1" r="1.80"/><circle cx="507.4" cy="72.1" r="1.80"/><circle cx="523.6" cy="72.1" r="1.80"/><circle cx="540.0" cy="72.1" r="1.80"/><circle cx="556.2" cy="72.1" r="1.80"/><circle cx="572.6" cy="72.1" r="1.80"/><circle cx="588.9" cy="72.1" r="1.80"/><circle cx="605.2" cy="72.1" r="1.80"/><circle cx="466.6" cy="80.2" r="1.80"/><circle cx="482.9" cy="80.2" r="1.80"/><circle cx="499.2" cy="80.2" r="1.80"/><circle cx="515.5" cy="80.2" r="1.80"/><circle cx="531.8" cy="80.2" r="1.80"/><circle cx="548.1" cy="80.2" r="1.80"/><circle cx="564.4" cy="80.2" r="1.80"/><circle cx="580.7" cy="80.2" r="1.80"/><circle cx="597.0" cy="80.2" r="1.80"/><circle cx="474.8" cy="88.4" r="1.80"/><circle cx="491.1" cy="88.4" r="1.80"/><circle cx="507.4" cy="88.4" r="1.80"/><circle cx="523.6" cy="88.4" r="1.80"/><circle cx="540.0" cy="88.4" r="1.80"/><circle cx="556.2" cy="88.4" r="1.80"/><circle cx="572.6" cy="88.4" r="1.80"/><circle cx="588.9" cy="88.4" r="1.80"/><circle cx="605.2" cy="88.4" r="1.80"/><circle cx="385.1" cy="96.6" r="1.80"/><circle cx="401.4" cy="96.6" r="1.80"/><circle cx="466.6" cy="96.6" r="1.80"/><circle cx="482.9" cy="96.6" r="1.80"/><circle cx="499.2" cy="96.6" r="1.80"/><circle cx="515.5" cy="96.6" r="1.80"/><circle cx="531.8" cy="96.6" r="1.80"/><circle cx="548.1" cy="96.6" r="1.80"/><circle cx="564.4" cy="96.6" r="1.80"/><circle cx="580.7" cy="96.6" r="1.80"/><circle cx="597.0" cy="96.6" r="1.80"/><circle cx="377.0" cy="104.7" r="1.80"/><circle cx="393.3" cy="104.7" r="1.80"/><circle cx="474.8" cy="104.7" r="1.80"/><circle cx="491.1" cy="104.7" r="1.80"/><circle cx="507.4" cy="104.7" r="1.80"/><circle cx="523.6" cy="104.7" r="1.80"/><circle cx="540.0" cy="104.7" r="1.80"/><circle cx="556.2" cy="104.7" r="1.80"/><circle cx="572.6" cy="104.7" r="1.80"/><circle cx="588.9" cy="104.7" r="1.80"/><circle cx="605.2" cy="104.7" r="1.80"/><circle cx="368.8" cy="112.9" r="1.80"/><circle cx="385.1" cy="112.9" r="1.80"/><circle cx="401.4" cy="112.9" r="1.80"/><circle cx="466.6" cy="112.9" r="1.80"/><circle cx="482.9" cy="112.9" r="1.80"/><circle cx="499.2" cy="112.9" r="1.80"/><circle cx="515.5" cy="112.9" r="1.80"/><circle cx="531.8" cy="112.9" r="1.80"/><circle cx="548.1" cy="112.9" r="1.80"/><circle cx="564.4" cy="112.9" r="1.80"/><circle cx="580.7" cy="112.9" r="1.80"/><circle cx="597.0" cy="112.9" r="1.80"/><circle cx="377.0" cy="121.0" r="1.80"/><circle cx="393.3" cy="121.0" r="1.80"/><circle cx="474.8" cy="121.0" r="1.80"/><circle cx="491.1" cy="121.0" r="1.80"/><circle cx="507.4" cy="121.0" r="1.80"/><circle cx="523.6" cy="121.0" r="1.80"/><circle cx="540.0" cy="121.0" r="1.80"/><circle cx="556.2" cy="121.0" r="1.80"/><circle cx="572.6" cy="121.0" r="1.80"/><circle cx="588.9" cy="121.0" r="1.80"/><circle cx="605.2" cy="121.0" r="1.80"/><circle cx="368.8" cy="129.2" r="1.80"/><circle cx="385.1" cy="129.2" r="1.80"/><circle cx="401.4" cy="129.2" r="1.80"/><circle cx="466.6" cy="129.2" r="1.80"/><circle cx="482.9" cy="129.2" r="1.80"/><circle cx="499.2" cy="129.2" r="1.80"/><circle cx="515.5" cy="129.2" r="1.80"/><circle cx="531.8" cy="129.2" r="1.80"/><circle cx="548.1" cy="129.2" r="1.80"/><circle cx="564.4" cy="129.2" r="1.80"/><circle cx="580.7" cy="129.2" r="1.80"/><circle cx="597.0" cy="129.2" r="1.80"/><circle cx="377.0" cy="137.4" r="1.80"/><circle cx="393.3" cy="137.4" r="1.80"/><circle cx="474.8" cy="137.4" r="1.80"/><circle cx="491.1" cy="137.4" r="1.80"/><circle cx="507.4" cy="137.4" r="1.80"/><circle cx="523.6" cy="137.4" r="1.80"/><circle cx="540.0" cy="137.4" r="1.80"/><circle cx="556.2" cy="137.4" r="1.80"/><circle cx="572.6" cy="137.4" r="1.80"/><circle cx="588.9" cy="137.4" r="1.80"/><circle cx="605.2" cy="137.4" r="1.80"/><circle cx="385.1" cy="145.5" r="1.80"/><circle cx="401.4" cy="145.5" r="1.80"/><circle cx="466.6" cy="145.5" r="1.80"/><circle cx="482.9" cy="145.5" r="1.80"/><circle cx="499.2" cy="145.5" r="1.80"/><circle cx="515.5" cy="145.5" r="1.80"/><circle cx="531.8" cy="145.5" r="1.80"/><circle cx="548.1" cy="145.5" r="1.80"/><circle cx="564.4" cy="145.5" r="1.80"/><circle cx="580.7" cy="145.5" r="1.80"/><circle cx="597.0" cy="145.5" r="1.80"/><circle cx="377.0" cy="153.7" r="1.80"/><circle cx="393.3" cy="153.7" r="1.80"/><circle cx="474.8" cy="153.7" r="1.80"/><circle cx="491.1" cy="153.7" r="1.80"/><circle cx="507.4" cy="153.7" r="1.80"/><circle cx="523.6" cy="153.7" r="1.80"/><circle cx="540.0" cy="153.7" r="1.80"/><circle cx="556.2" cy="153.7" r="1.80"/><circle cx="572.6" cy="153.7" r="1.80"/><circle cx="588.9" cy="153.7" r="1.80"/><circle cx="605.2" cy="153.7" r="1.80"/><circle cx="385.1" cy="161.8" r="1.80"/><circle cx="466.6" cy="161.8" r="1.80"/><circle cx="482.9" cy="161.8" r="1.80"/><circle cx="499.2" cy="161.8" r="1.80"/><circle cx="515.5" cy="161.8" r="1.80"/><circle cx="531.8" cy="161.8" r="1.80"/><circle cx="548.1" cy="161.8" r="1.80"/><circle cx="564.4" cy="161.8" r="1.80"/><circle cx="580.7" cy="161.8" r="1.80"/><circle cx="597.0" cy="161.8" r="1.80"/><circle cx="377.0" cy="170.0" r="1.80"/><circle cx="393.3" cy="170.0" r="1.80"/><circle cx="474.8" cy="170.0" r="1.80"/><circle cx="491.1" cy="170.0" r="1.80"/><circle cx="507.4" cy="170.0" r="1.80"/><circle cx="523.6" cy="170.0" r="1.80"/><circle cx="540.0" cy="170.0" r="1.80"/><circle cx="556.2" cy="170.0" r="1.80"/><circle cx="572.6" cy="170.0" r="1.80"/><circle cx="588.9" cy="170.0" r="1.80"/><circle cx="605.2" cy="170.0" r="1.80"/><circle cx="385.1" cy="178.2" r="1.80"/><circle cx="466.6" cy="178.2" r="1.80"/><circle cx="482.9" cy="178.2" r="1.80"/><circle cx="499.2" cy="178.2" r="1.80"/><circle cx="515.5" cy="178.2" r="1.80"/><circle cx="531.8" cy="178.2" r="1.80"/><circle cx="548.1" cy="178.2" r="1.80"/><circle cx="564.4" cy="178.2" r="1.80"/><circle cx="580.7" cy="178.2" r="1.80"/><circle cx="597.0" cy="178.2" r="1.80"/><circle cx="458.5" cy="186.3" r="1.80"/><circle cx="474.8" cy="186.3" r="1.80"/><circle cx="491.1" cy="186.3" r="1.80"/><circle cx="507.4" cy="186.3" r="1.80"/><circle cx="523.6" cy="186.3" r="1.80"/><circle cx="540.0" cy="186.3" r="1.80"/><circle cx="556.2" cy="186.3" r="1.80"/><circle cx="572.6" cy="186.3" r="1.80"/><circle cx="588.9" cy="186.3" r="1.80"/><circle cx="466.6" cy="194.5" r="1.80"/><circle cx="482.9" cy="194.5" r="1.80"/><circle cx="499.2" cy="194.5" r="1.80"/><circle cx="515.5" cy="194.5" r="1.80"/><circle cx="531.8" cy="194.5" r="1.80"/><circle cx="548.1" cy="194.5" r="1.80"/><circle cx="564.4" cy="194.5" r="1.80"/><circle cx="580.7" cy="194.5" r="1.80"/><circle cx="458.5" cy="202.6" r="1.80"/><circle cx="474.8" cy="202.6" r="1.80"/><circle cx="491.1" cy="202.6" r="1.80"/><circle cx="507.4" cy="202.6" r="1.80"/><circle cx="523.6" cy="202.6" r="1.80"/><circle cx="540.0" cy="202.6" r="1.80"/><circle cx="556.2" cy="202.6" r="1.80"/><circle cx="572.6" cy="202.6" r="1.80"/><circle cx="588.9" cy="202.6" r="1.80"/><circle cx="466.6" cy="210.8" r="1.80"/><circle cx="482.9" cy="210.8" r="1.80"/><circle cx="499.2" cy="210.8" r="1.80"/><circle cx="515.5" cy="210.8" r="1.80"/><circle cx="531.8" cy="210.8" r="1.80"/><circle cx="548.1" cy="210.8" r="1.80"/><circle cx="564.4" cy="210.8" r="1.80"/><circle cx="580.7" cy="210.8" r="1.80"/><circle cx="474.8" cy="219.0" r="1.80"/><circle cx="491.1" cy="219.0" r="1.80"/><circle cx="507.4" cy="219.0" r="1.80"/><circle cx="523.6" cy="219.0" r="1.80"/><circle cx="540.0" cy="219.0" r="1.80"/><circle cx="556.2" cy="219.0" r="1.80"/><circle cx="572.6" cy="219.0" r="1.80"/><circle cx="588.9" cy="219.0" r="1.80"/><circle cx="466.6" cy="227.1" r="1.80"/><circle cx="482.9" cy="227.1" r="1.80"/><circle cx="499.2" cy="227.1" r="1.80"/><circle cx="515.5" cy="227.1" r="1.80"/><circle cx="531.8" cy="227.1" r="1.80"/><circle cx="548.1" cy="227.1" r="1.80"/><circle cx="564.4" cy="227.1" r="1.80"/><circle cx="580.7" cy="227.1" r="1.80"/><circle cx="474.8" cy="235.3" r="1.80"/><circle cx="491.1" cy="235.3" r="1.80"/><circle cx="507.4" cy="235.3" r="1.80"/><circle cx="523.6" cy="235.3" r="1.80"/><circle cx="540.0" cy="235.3" r="1.80"/><circle cx="556.2" cy="235.3" r="1.80"/><circle cx="572.6" cy="235.3" r="1.80"/><circle cx="588.9" cy="235.3" r="1.80"/><circle cx="466.6" cy="243.4" r="1.80"/><circle cx="482.9" cy="243.4" r="1.80"/><circle cx="499.2" cy="243.4" r="1.80"/><circle cx="515.5" cy="243.4" r="1.80"/><circle cx="531.8" cy="243.4" r="1.80"/><circle cx="548.1" cy="243.4" r="1.80"/><circle cx="564.4" cy="243.4" r="1.80"/><circle cx="580.7" cy="243.4" r="1.80"/><circle cx="474.8" cy="251.6" r="1.80"/><circle cx="491.1" cy="251.6" r="1.80"/><circle cx="507.4" cy="251.6" r="1.80"/><circle cx="523.6" cy="251.6" r="1.80"/><circle cx="540.0" cy="251.6" r="1.80"/><circle cx="556.2" cy="251.6" r="1.80"/><circle cx="572.6" cy="251.6" r="1.80"/><circle cx="588.9" cy="251.6" r="1.80"/><circle cx="482.9" cy="259.8" r="1.80"/><circle cx="499.2" cy="259.8" r="1.80"/><circle cx="515.5" cy="259.8" r="1.80"/><circle cx="531.8" cy="259.8" r="1.80"/><circle cx="548.1" cy="259.8" r="1.80"/><circle cx="564.4" cy="259.8" r="1.80"/><circle cx="580.7" cy="259.8" r="1.80"/><circle cx="474.8" cy="267.9" r="1.80"/><circle cx="491.1" cy="267.9" r="1.80"/><circle cx="507.4" cy="267.9" r="1.80"/><circle cx="523.6" cy="267.9" r="1.80"/><circle cx="540.0" cy="267.9" r="1.80"/><circle cx="556.2" cy="267.9" r="1.80"/><circle cx="572.6" cy="267.9" r="1.80"/><circle cx="588.9" cy="267.9" r="1.80"/><circle cx="482.9" cy="276.1" r="1.80"/><circle cx="499.2" cy="276.1" r="1.80"/><circle cx="515.5" cy="276.1" r="1.80"/><circle cx="531.8" cy="276.1" r="1.80"/><circle cx="548.1" cy="276.1" r="1.80"/><circle cx="564.4" cy="276.1" r="1.80"/><circle cx="580.7" cy="276.1" r="1.80"/><circle cx="474.8" cy="284.2" r="1.80"/><circle cx="491.1" cy="284.2" r="1.80"/><circle cx="507.4" cy="284.2" r="1.80"/><circle cx="523.6" cy="284.2" r="1.80"/><circle cx="540.0" cy="284.2" r="1.80"/><circle cx="556.2" cy="284.2" r="1.80"/><circle cx="572.6" cy="284.2" r="1.80"/><circle cx="588.9" cy="284.2" r="1.80"/><circle cx="385.1" cy="292.4" r="1.80"/><circle cx="401.4" cy="292.4" r="1.80"/><circle cx="482.9" cy="292.4" r="1.80"/><circle cx="499.2" cy="292.4" r="1.80"/><circle cx="515.5" cy="292.4" r="1.80"/><circle cx="531.8" cy="292.4" r="1.80"/><circle cx="548.1" cy="292.4" r="1.80"/><circle cx="564.4" cy="292.4" r="1.80"/><circle cx="580.7" cy="292.4" r="1.80"/><circle cx="393.3" cy="300.6" r="1.80"/><circle cx="409.6" cy="300.6" r="1.80"/><circle cx="491.1" cy="300.6" r="1.80"/><circle cx="507.4" cy="300.6" r="1.80"/><circle cx="523.6" cy="300.6" r="1.80"/><circle cx="540.0" cy="300.6" r="1.80"/><circle cx="556.2" cy="300.6" r="1.80"/><circle cx="572.6" cy="300.6" r="1.80"/><circle cx="588.9" cy="300.6" r="1.80"/><circle cx="385.1" cy="308.7" r="1.80"/><circle cx="401.4" cy="308.7" r="1.80"/><circle cx="482.9" cy="308.7" r="1.80"/><circle cx="499.2" cy="308.7" r="1.80"/><circle cx="515.5" cy="308.7" r="1.80"/><circle cx="548.1" cy="308.7" r="1.80"/><circle cx="564.4" cy="308.7" r="1.80"/><circle cx="580.7" cy="308.7" r="1.80"/><circle cx="393.3" cy="316.9" r="1.80"/><circle cx="409.6" cy="316.9" r="1.80"/><circle cx="491.1" cy="316.9" r="1.80"/><circle cx="507.4" cy="316.9" r="1.80"/><circle cx="556.2" cy="316.9" r="1.80"/><circle cx="572.6" cy="316.9" r="1.80"/><circle cx="588.9" cy="316.9" r="1.80"/><circle cx="385.1" cy="325.0" r="1.80"/><circle cx="401.4" cy="325.0" r="1.80"/><circle cx="482.9" cy="325.0" r="1.80"/><circle cx="499.2" cy="325.0" r="1.80"/><circle cx="515.5" cy="325.0" r="1.80"/><circle cx="548.1" cy="325.0" r="1.80"/><circle cx="564.4" cy="325.0" r="1.80"/><circle cx="580.7" cy="325.0" r="1.80"/><circle cx="393.3" cy="333.2" r="1.80"/><circle cx="409.6" cy="333.2" r="1.80"/><circle cx="491.1" cy="333.2" r="1.80"/><circle cx="507.4" cy="333.2" r="1.80"/><circle cx="556.2" cy="333.2" r="1.80"/><circle cx="572.6" cy="333.2" r="1.80"/><circle cx="588.9" cy="333.2" r="1.80"/><circle cx="385.1" cy="341.4" r="1.80"/><circle cx="401.4" cy="341.4" r="1.80"/><circle cx="417.7" cy="341.4" r="1.80"/><circle cx="482.9" cy="341.4" r="1.80"/><circle cx="499.2" cy="341.4" r="1.80"/><circle cx="548.1" cy="341.4" r="1.80"/><circle cx="564.4" cy="341.4" r="1.80"/><circle cx="580.7" cy="341.4" r="1.80"/><circle cx="393.3" cy="349.5" r="1.80"/><circle cx="409.6" cy="349.5" r="1.80"/><circle cx="425.9" cy="349.5" r="1.80"/><circle cx="442.2" cy="349.5" r="1.80"/><circle cx="556.2" cy="349.5" r="1.80"/><circle cx="572.6" cy="349.5" r="1.80"/><circle cx="588.9" cy="349.5" r="1.80"/><circle cx="401.4" cy="357.7" r="1.80"/><circle cx="417.7" cy="357.7" r="1.80"/><circle cx="564.4" cy="357.7" r="1.80"/><circle cx="580.7" cy="357.7" r="1.80"/><circle cx="393.3" cy="365.8" r="1.80"/><circle cx="409.6" cy="365.8" r="1.80"/><circle cx="572.6" cy="365.8" r="1.80"/><circle cx="588.9" cy="365.8" r="1.80"/><circle cx="401.4" cy="374.0" r="1.80"/><circle cx="417.7" cy="374.0" r="1.80"/><circle cx="580.7" cy="374.0" r="1.80"/><circle cx="393.3" cy="382.2" r="1.80"/><circle cx="409.6" cy="382.2" r="1.80"/><circle cx="572.6" cy="382.2" r="1.80"/><circle cx="588.9" cy="382.2" r="1.80"/><circle cx="401.4" cy="390.3" r="1.80"/><circle cx="580.7" cy="390.3" r="1.80"/><circle cx="409.6" cy="398.5" r="1.80"/><circle cx="588.9" cy="398.5" r="1.80"/><circle cx="401.4" cy="406.6" r="1.80"/><circle cx="409.6" cy="414.8" r="1.80"/><circle cx="401.4" cy="423.0" r="1.80"/><circle cx="409.6" cy="431.1" r="1.80"/><circle cx="409.6" cy="447.4" r="1.80"/><circle cx="319.9" cy="455.6" r="1.80"/><circle cx="417.7" cy="455.6" r="1.80"/><circle cx="311.8" cy="463.8" r="1.80"/><circle cx="328.1" cy="463.8" r="1.80"/><circle cx="409.6" cy="463.8" r="1.80"/><circle cx="458.5" cy="463.8" r="1.80"/><circle cx="474.8" cy="463.8" r="1.80"/><circle cx="303.6" cy="471.9" r="1.80"/><circle cx="319.9" cy="471.9" r="1.80"/><circle cx="336.2" cy="471.9" r="1.80"/><circle cx="417.7" cy="471.9" r="1.80"/><circle cx="466.6" cy="471.9" r="1.80"/><circle cx="482.9" cy="471.9" r="1.80"/><circle cx="311.8" cy="480.1" r="1.80"/><circle cx="328.1" cy="480.1" r="1.80"/><circle cx="409.6" cy="480.1" r="1.80"/><circle cx="458.5" cy="480.1" r="1.80"/><circle cx="474.8" cy="480.1" r="1.80"/><circle cx="491.1" cy="480.1" r="1.80"/><circle cx="303.6" cy="488.2" r="1.80"/><circle cx="319.9" cy="488.2" r="1.80"/><circle cx="336.2" cy="488.2" r="1.80"/><circle cx="417.7" cy="488.2" r="1.80"/><circle cx="450.3" cy="488.2" r="1.80"/><circle cx="466.6" cy="488.2" r="1.80"/><circle cx="482.9" cy="488.2" r="1.80"/></g>
</g>
<rect x="0" y="0" width="826" height="495.5" fill="none" stroke="#000" stroke-width="3.6"/>
<g stroke="#000" stroke-linecap="round"><line x1="45.9" y1="0" x2="45.9" y2="-8" stroke-width="2"/><line x1="45.9" y1="495.5" x2="45.9" y2="503.5" stroke-width="2"/><line x1="91.8" y1="0" x2="91.8" y2="-8" stroke-width="2"/><line x1="91.8" y1="495.5" x2="91.8" y2="503.5" stroke-width="2"/><line x1="137.7" y1="0" x2="137.7" y2="-17" stroke-width="3.6"/><line x1="137.7" y1="495.5" x2="137.7" y2="512.5" stroke-width="3.6"/><line x1="183.6" y1="0" x2="183.6" y2="-8" stroke-width="2"/><line x1="183.6" y1="495.5" x2="183.6" y2="503.5" stroke-width="2"/><line x1="229.4" y1="0" x2="229.4" y2="-8" stroke-width="2"/><line x1="229.4" y1="495.5" x2="229.4" y2="503.5" stroke-width="2"/><line x1="275.3" y1="0" x2="275.3" y2="-17" stroke-width="3.6"/><line x1="275.3" y1="495.5" x2="275.3" y2="512.5" stroke-width="3.6"/><line x1="321.2" y1="0" x2="321.2" y2="-8" stroke-width="2"/><line x1="321.2" y1="495.5" x2="321.2" y2="503.5" stroke-width="2"/><line x1="367.1" y1="0" x2="367.1" y2="-8" stroke-width="2"/><line x1="367.1" y1="495.5" x2="367.1" y2="503.5" stroke-width="2"/><line x1="413" y1="0" x2="413" y2="-17" stroke-width="3.6"/><line x1="413" y1="495.5" x2="413" y2="512.5" stroke-width="3.6"/><line x1="458.9" y1="0" x2="458.9" y2="-8" stroke-width="2"/><line x1="458.9" y1="495.5" x2="458.9" y2="503.5" stroke-width="2"/><line x1="504.8" y1="0" x2="504.8" y2="-8" stroke-width="2"/><line x1="504.8" y1="495.5" x2="504.8" y2="503.5" stroke-width="2"/><line x1="550.7" y1="0" x2="550.7" y2="-17" stroke-width="3.6"/><line x1="550.7" y1="495.5" x2="550.7" y2="512.5" stroke-width="3.6"/><line x1="596.6" y1="0" x2="596.6" y2="-8" stroke-width="2"/><line x1="596.6" y1="495.5" x2="596.6" y2="503.5" stroke-width="2"/><line x1="642.4" y1="0" x2="642.4" y2="-8" stroke-width="2"/><line x1="642.4" y1="495.5" x2="642.4" y2="503.5" stroke-width="2"/><line x1="688.3" y1="0" x2="688.3" y2="-17" stroke-width="3.6"/><line x1="688.3" y1="495.5" x2="688.3" y2="512.5" stroke-width="3.6"/><line x1="734.2" y1="0" x2="734.2" y2="-8" stroke-width="2"/><line x1="734.2" y1="495.5" x2="734.2" y2="503.5" stroke-width="2"/><line x1="780.1" y1="0" x2="780.1" y2="-8" stroke-width="2"/><line x1="780.1" y1="495.5" x2="780.1" y2="503.5" stroke-width="2"/><line x1="0" y1="24.8" x2="-8" y2="24.8" stroke-width="2"/><line x1="826" y1="24.8" x2="834" y2="24.8" stroke-width="2"/><line x1="0" y1="49.6" x2="-8" y2="49.6" stroke-width="2"/><line x1="826" y1="49.6" x2="834" y2="49.6" stroke-width="2"/><line x1="0" y1="74.3" x2="-8" y2="74.3" stroke-width="2"/><line x1="826" y1="74.3" x2="834" y2="74.3" stroke-width="2"/><line x1="0" y1="99.1" x2="-17" y2="99.1" stroke-width="3.6"/><line x1="826" y1="99.1" x2="843" y2="99.1" stroke-width="3.6"/><line x1="0" y1="123.9" x2="-8" y2="123.9" stroke-width="2"/><line x1="826" y1="123.9" x2="834" y2="123.9" stroke-width="2"/><line x1="0" y1="148.7" x2="-8" y2="148.7" stroke-width="2"/><line x1="826" y1="148.7" x2="834" y2="148.7" stroke-width="2"/><line x1="0" y1="173.4" x2="-8" y2="173.4" stroke-width="2"/><line x1="826" y1="173.4" x2="834" y2="173.4" stroke-width="2"/><line x1="0" y1="198.2" x2="-17" y2="198.2" stroke-width="3.6"/><line x1="826" y1="198.2" x2="843" y2="198.2" stroke-width="3.6"/><line x1="0" y1="223" x2="-8" y2="223" stroke-width="2"/><line x1="826" y1="223" x2="834" y2="223" stroke-width="2"/><line x1="0" y1="247.8" x2="-8" y2="247.8" stroke-width="2"/><line x1="826" y1="247.8" x2="834" y2="247.8" stroke-width="2"/><line x1="0" y1="272.5" x2="-8" y2="272.5" stroke-width="2"/><line x1="826" y1="272.5" x2="834" y2="272.5" stroke-width="2"/><line x1="0" y1="297.3" x2="-17" y2="297.3" stroke-width="3.6"/><line x1="826" y1="297.3" x2="843" y2="297.3" stroke-width="3.6"/><line x1="0" y1="322.1" x2="-8" y2="322.1" stroke-width="2"/><line x1="826" y1="322.1" x2="834" y2="322.1" stroke-width="2"/><line x1="0" y1="346.8" x2="-8" y2="346.8" stroke-width="2"/><line x1="826" y1="346.8" x2="834" y2="346.8" stroke-width="2"/><line x1="0" y1="371.6" x2="-8" y2="371.6" stroke-width="2"/><line x1="826" y1="371.6" x2="834" y2="371.6" stroke-width="2"/><line x1="0" y1="396.4" x2="-17" y2="396.4" stroke-width="3.6"/><line x1="826" y1="396.4" x2="843" y2="396.4" stroke-width="3.6"/><line x1="0" y1="421.2" x2="-8" y2="421.2" stroke-width="2"/><line x1="826" y1="421.2" x2="834" y2="421.2" stroke-width="2"/><line x1="0" y1="445.9" x2="-8" y2="445.9" stroke-width="2"/><line x1="826" y1="445.9" x2="834" y2="445.9" stroke-width="2"/><line x1="0" y1="470.7" x2="-8" y2="470.7" stroke-width="2"/><line x1="826" y1="470.7" x2="834" y2="470.7" stroke-width="2"/><line x1="0" y1="495.5" x2="-17" y2="495.5" stroke-width="3.6"/><line x1="826" y1="495.5" x2="843" y2="495.5" stroke-width="3.6"/></g>
<g font-family="Liberation Sans, sans-serif" font-size="31" fill="#000"><text x="-38" y="110.1" text-anchor="end">200</text><text x="-38" y="209.2" text-anchor="end">400</text><text x="-38" y="308.3" text-anchor="end">600</text><text x="-38" y="407.4" text-anchor="end">800</text><text x="-38" y="506.5" text-anchor="end">1000</text><text x="134.2" y="558" text-anchor="middle">60°S</text><text x="271.8" y="558" text-anchor="middle">30°S</text><text x="411" y="558" text-anchor="middle">0</text><text x="547.2" y="558" text-anchor="middle">30°N</text><text x="684.8" y="558" text-anchor="middle">60°N</text></g>
<text font-family="Liberation Sans, sans-serif" font-size="38" transform="translate(-134,248.8) rotate(-90)" text-anchor="middle">pressure [hPa]</text>
<text font-family="Liberation Sans, sans-serif" font-size="41.5" transform="translate(-2.5,-27.5) scale(0.94,1)">(d)</text><text font-family="Liberation Sans, sans-serif" font-size="42.8" text-anchor="end" transform="translate(793.5,-32.8) scale(0.96,1)">HR</text><text font-family="Liberation Sans, sans-serif" font-size="26.3" transform="translate(792.46,-24.3) scale(0.97,1)">ide</text>
</g>
<g font-family="Liberation Sans, sans-serif" font-size="28.5"><rect x="526.5" y="1378.5" width="84.7" height="44" fill="#2f3393"/>
<rect x="610.7" y="1378.5" width="84.7" height="44" fill="#4169af"/>
<rect x="694.8" y="1378.5" width="84.7" height="44" fill="#6195c8"/>
<rect x="779" y="1378.5" width="84.7" height="44" fill="#8bbddb"/>
<rect x="863.2" y="1378.5" width="84.7" height="44" fill="#b9e0ee"/>
<rect x="947.3" y="1378.5" width="84.7" height="44" fill="#e1f1ef"/>
<rect x="1031.5" y="1378.5" width="84.7" height="44" fill="#f7e3a5"/>
<rect x="1115.7" y="1378.5" width="84.7" height="44" fill="#fbc174"/>
<rect x="1199.8" y="1378.5" width="84.7" height="44" fill="#fb9155"/>
<rect x="1284" y="1378.5" width="84.7" height="44" fill="#ec5b3c"/>
<rect x="1368.2" y="1378.5" width="84.7" height="44" fill="#d93127"/>
<rect x="1452.3" y="1378.5" width="84.7" height="44" fill="#a80826"/>
<line x1="610.7" y1="1378.5" x2="610.7" y2="1422.5" stroke="#000" stroke-width="2"/>
<line x1="694.8" y1="1378.5" x2="694.8" y2="1422.5" stroke="#000" stroke-width="2"/>
<line x1="779" y1="1378.5" x2="779" y2="1422.5" stroke="#000" stroke-width="2"/>
<line x1="863.2" y1="1378.5" x2="863.2" y2="1422.5" stroke="#000" stroke-width="2"/>
<line x1="947.3" y1="1378.5" x2="947.3" y2="1422.5" stroke="#000" stroke-width="2"/>
<line x1="1031.5" y1="1378.5" x2="1031.5" y2="1422.5" stroke="#000" stroke-width="2"/>
<line x1="1115.7" y1="1378.5" x2="1115.7" y2="1422.5" stroke="#000" stroke-width="2"/>
<line x1="1199.8" y1="1378.5" x2="1199.8" y2="1422.5" stroke="#000" stroke-width="2"/>
<line x1="1284" y1="1378.5" x2="1284" y2="1422.5" stroke="#000" stroke-width="2"/>
<line x1="1368.2" y1="1378.5" x2="1368.2" y2="1422.5" stroke="#000" stroke-width="2"/>
<line x1="1452.3" y1="1378.5" x2="1452.3" y2="1422.5" stroke="#000" stroke-width="2"/>
<rect x="526.5" y="1378.5" width="1010" height="44" fill="none" stroke="#000" stroke-width="2.4"/>
<text x="610.7" y="1456" text-anchor="middle">-5</text>
<text x="694.8" y="1456" text-anchor="middle">-4</text>
<text x="779" y="1456" text-anchor="middle">-3</text>
<text x="863.2" y="1456" text-anchor="middle">-2</text>
<text x="947.3" y="1456" text-anchor="middle">-1</text>
<text x="1031.5" y="1456" text-anchor="middle">0</text>
<text x="1115.7" y="1456" text-anchor="middle">1</text>
<text x="1199.8" y="1456" text-anchor="middle">2</text>
<text x="1284" y="1456" text-anchor="middle">3</text>
<text x="1368.2" y="1456" text-anchor="middle">4</text>
<text x="1452.3" y="1456" text-anchor="middle">5</text>
<text x="1031.5" y="1353" text-anchor="middle">u-velocity bias [m/s]</text></g>
</svg></body></html>
